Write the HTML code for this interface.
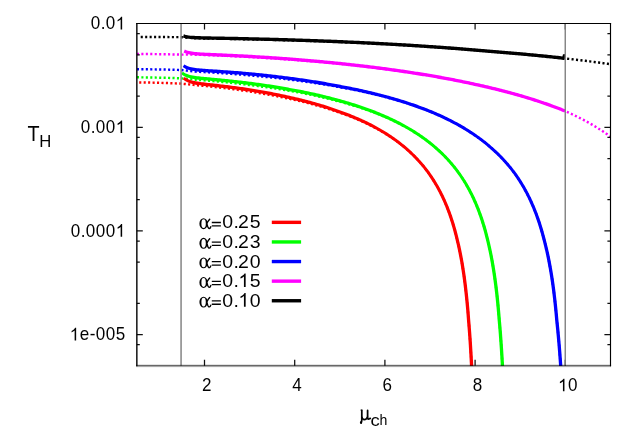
<!DOCTYPE html>
<html><head><meta charset="utf-8"><title>plot</title>
<style>
html,body{margin:0;padding:0;background:#fff;}
body{width:640px;height:448px;overflow:hidden;font-family:"Liberation Sans",sans-serif;}
svg{display:block;}
text{font-family:"Liberation Sans",sans-serif;fill:#000;}
text.sf{font-family:"Liberation Serif",serif;}
</style></head><body>
<svg width="640" height="448" viewBox="0 0 640 448">
<rect width="640" height="448" fill="#fff"/>
<defs><clipPath id="cp"><rect x="136" y="23" width="475" height="343"/></clipPath></defs>
<g clip-path="url(#cp)">
<path d="M139.20,82.42 L140.70,82.43 L142.20,82.46 L143.70,82.48 L145.20,82.50 L146.70,82.53 L148.20,82.55 L149.70,82.58 L151.20,82.61 L152.70,82.65 L154.20,82.68 L155.70,82.72 L157.20,82.76 L158.70,82.79 L160.20,82.84 L161.70,82.88 L163.19,82.93 L164.69,82.97 L166.19,83.02 L167.69,83.07 L169.19,83.13 L170.69,83.18 L172.19,83.24 L173.69,83.30 L175.19,83.36 L176.69,83.42 L178.18,83.49 L179.68,83.56 L181.18,83.64 L182.68,83.78 L184.18,83.93 L185.68,84.09 L187.17,84.24 L188.67,84.40 L190.17,84.56 L191.67,84.72 L193.16,84.88 L194.66,85.05 L196.16,85.21 L197.66,85.33 L199.15,85.44 L200.65,85.57 L202.15,85.70 L203.64,85.84 L205.14,85.99 L206.63,86.13 L208.13,86.28 L209.63,86.43 L211.12,86.58 L212.62,86.74 L214.11,86.90 L215.61,87.06 L217.10,87.22 L218.59,87.39 L220.09,87.56 L221.58,87.73 L223.08,87.91 L224.57,88.08 L226.06,88.27 L227.55,88.45 L229.05,88.64 L230.54,88.83 L232.03,89.02 L233.52,89.22 L235.01,89.42 L236.50,89.62 L237.99,89.82 L239.48,90.03 L240.97,90.24 L242.46,90.45 L243.95,90.67 L245.44,90.89 L246.93,91.11 L248.41,91.34 L249.90,91.56 L251.39,91.80 L252.87,92.03 L254.36,92.27 L255.84,92.51 L257.33,92.76 L258.81,93.01 L260.30,93.26 L261.78,93.50 L263.26,93.75 L264.74,94.00 L266.22,94.26 L267.70,94.51 L269.18,94.78 L270.66,95.04 L272.14,95.31 L273.62,95.59 L275.10,95.86 L276.57,96.15 L278.05,96.43 L279.52,96.72 L281.00,97.02 L282.47,97.32 L283.94,97.62 L285.41,97.93 L286.88,98.24 L288.35,98.56 L289.82,98.88 L291.29,99.19 L292.76,99.51 L294.22,99.83 L295.69,100.15 L297.15,100.48 L298.61,100.81 L300.07,101.15 L301.53,101.49 L302.99,101.84 L304.45,102.19 L305.91,102.55 L307.36,102.91 L308.82,103.28 L310.27,103.65 L311.72,104.03 L313.17,104.42 L314.62,104.81 L316.06,105.21 L317.51,105.61 L318.95,106.02 L320.39,106.43 L321.83,106.85 L323.27,107.28 L324.71,107.71 L326.14,108.15 L327.57,108.60 L329.00,109.05 L330.43,109.51 L331.86,109.98 L333.28,110.45 L334.70,110.93 L336.12,111.41 L337.54,111.90 L338.95,112.40 L340.37,112.90 L341.77,113.39 L343.18,113.88 L344.59,114.38 L345.99,114.89 L347.39,115.41 L348.78,115.93 L350.17,116.47 L351.56,117.01 L352.95,117.55 L354.33,118.11 L355.71,118.67 L357.09,119.25 L358.46,119.83 L359.83,120.42 L361.19,121.02 L362.55,121.62 L363.91,122.24 L365.26,122.86 L366.61,123.50 L367.95,124.14 L369.29,124.79 L370.63,125.45 L371.96,126.13 L373.28,126.81 L374.60,127.50 L375.92,128.20 L377.22,128.91 L378.53,129.63 L379.83,130.36 L381.12,131.10 L382.41,131.85 L383.69,132.61 L384.96,133.38 L386.23,134.16 L387.49,134.95 L388.74,135.75 L389.99,136.56 L391.23,137.39 L392.47,138.22 L393.69,139.07 L394.91,139.93 L396.12,140.79 L397.32,141.67 L398.52,142.56 L399.70,143.46 L400.88,144.37 L402.05,145.30 L403.21,146.23 L404.36,147.18 L405.50,148.14 L406.63,149.11 L407.76,150.09 L408.87,151.08 L409.97,152.08 L411.06,153.09 L412.15,154.12 L413.22,155.15 L414.28,156.20 L415.33,157.26 L416.37,158.33 L417.40,159.41 L418.42,160.50 L419.42,161.60 L420.42,162.72 L421.40,163.85 L422.37,164.99 L423.33,166.15 L424.28,167.31 L425.22,168.48 L426.14,169.67 L427.04,170.86 L427.93,172.06 L428.81,173.28 L429.68,174.50 L430.53,175.73 L431.37,176.97 L432.20,178.23 L433.01,179.49 L433.81,180.76 L434.60,182.04 L435.38,183.32 L436.14,184.61 L436.90,185.92 L437.64,187.22 L438.36,188.54 L439.08,189.86 L439.78,191.19 L440.47,192.53 L441.15,193.87 L441.82,195.22 L442.47,196.58 L443.11,197.94 L443.74,199.30 L444.36,200.68 L444.97,202.05 L445.56,203.44 L446.15,204.83 L446.72,206.22 L447.28,207.62 L447.83,209.02 L448.37,210.43 L448.90,211.84 L449.42,213.25 L449.93,214.67 L450.43,216.10 L450.92,217.53 L451.39,218.96 L451.86,220.39 L452.32,221.83 L452.77,223.27 L453.21,224.71 L453.64,226.16 L454.06,227.61 L454.47,229.06 L454.88,230.52 L455.27,231.97 L455.66,233.43 L456.03,234.90 L456.40,236.36 L456.77,237.83 L457.12,239.30 L457.47,240.77 L457.82,242.24 L458.17,243.71 L458.50,245.19 L458.83,246.67 L459.15,248.15 L459.47,249.63 L459.77,251.11 L460.08,252.60 L460.37,254.09 L460.66,255.58 L460.94,257.07 L461.22,258.56 L461.49,260.05 L461.75,261.54 L462.01,263.04 L462.26,264.53 L462.51,266.03 L462.75,267.52 L462.99,269.02 L463.22,270.52 L463.45,272.02 L463.67,273.52 L463.89,275.02 L464.10,276.52 L464.31,278.03 L464.51,279.53 L464.71,281.03 L464.91,282.54 L465.10,284.04 L465.28,285.54 L465.46,287.05 L465.64,288.56 L465.82,290.06 L465.99,291.57 L466.15,293.08 L466.32,294.58 L466.48,296.09 L466.63,297.60 L466.78,299.11 L466.93,300.62 L467.08,302.13 L467.22,303.64 L467.36,305.15 L467.50,306.66 L467.63,308.17 L467.76,309.68 L467.89,311.19 L468.02,312.70 L468.14,314.21 L468.26,315.73 L468.37,317.24 L468.49,318.75 L468.60,320.26 L468.73,321.78 L468.86,323.29 L468.98,324.80 L469.10,326.31 L469.22,327.83 L469.33,329.34 L469.45,330.85 L469.56,332.37 L469.67,333.88 L469.78,335.39 L469.88,336.91 L469.99,338.42 L470.09,339.94 L470.19,341.45 L470.29,342.96 L470.39,344.48 L470.48,345.99 L470.57,347.51 L470.67,349.02 L470.76,350.54 L470.85,352.05 L470.93,353.57 L471.02,355.08 L471.10,356.60 L471.18,358.11 L471.27,359.63 L471.35,361.14 L471.42,362.66 L471.50,364.17 L471.58,365.69 L471.64,367.20 L471.69,368.72 L471.75,370.23 L471.80,371.75 L471.85,373.26" fill="none" stroke="#ff0000" stroke-width="2.45" stroke-dasharray="2.1 2.35"/>
<path d="M136.90,77.32 L138.40,77.33 L139.90,77.35 L141.40,77.36 L142.90,77.38 L144.40,77.40 L145.90,77.42 L147.40,77.44 L148.90,77.46 L150.40,77.49 L151.90,77.51 L153.40,77.54 L154.90,77.57 L156.40,77.60 L157.90,77.63 L159.40,77.67 L160.90,77.70 L162.40,77.74 L163.90,77.77 L165.40,77.81 L166.89,77.86 L168.39,77.90 L169.89,77.94 L171.39,77.99 L172.89,78.04 L174.39,78.09 L175.89,78.14 L177.39,78.19 L178.89,78.25 L180.39,78.30 L181.89,78.40 L183.39,78.54 L184.88,78.67 L186.38,78.81 L187.88,78.94 L189.38,79.08 L190.88,79.22 L192.38,79.37 L193.87,79.51 L195.37,79.66 L196.87,79.77 L198.37,79.87 L199.87,79.96 L201.36,80.08 L202.86,80.19 L204.36,80.31 L205.86,80.43 L207.35,80.56 L208.85,80.68 L210.35,80.81 L211.84,80.94 L213.34,81.07 L214.84,81.20 L216.33,81.34 L217.83,81.48 L219.33,81.62 L220.82,81.76 L222.32,81.91 L223.81,82.06 L225.31,82.21 L226.80,82.36 L228.30,82.51 L229.79,82.67 L231.29,82.83 L232.78,82.99 L234.28,83.16 L235.77,83.33 L237.26,83.50 L238.76,83.67 L240.25,83.84 L241.74,84.02 L243.24,84.19 L244.73,84.37 L246.22,84.55 L247.71,84.74 L249.20,84.92 L250.70,85.11 L252.19,85.31 L253.68,85.50 L255.17,85.70 L256.66,85.90 L258.15,86.10 L259.64,86.31 L261.12,86.51 L262.61,86.71 L264.10,86.91 L265.59,87.11 L267.08,87.32 L268.56,87.53 L270.05,87.74 L271.54,87.96 L273.02,88.18 L274.51,88.40 L275.99,88.63 L277.48,88.85 L278.96,89.09 L280.44,89.32 L281.93,89.56 L283.41,89.81 L284.89,90.05 L286.37,90.30 L287.85,90.55 L289.33,90.81 L290.81,91.06 L292.29,91.31 L293.77,91.57 L295.25,91.82 L296.72,92.08 L298.20,92.35 L299.67,92.62 L301.15,92.89 L302.62,93.16 L304.10,93.44 L305.57,93.73 L307.04,94.01 L308.51,94.31 L309.98,94.60 L311.45,94.90 L312.92,95.21 L314.39,95.52 L315.85,95.83 L317.32,96.15 L318.78,96.47 L320.25,96.80 L321.71,97.13 L323.17,97.46 L324.63,97.80 L326.09,98.15 L327.55,98.50 L329.01,98.86 L330.46,99.22 L331.92,99.58 L333.37,99.95 L334.82,100.32 L336.27,100.70 L337.72,101.09 L339.17,101.48 L340.62,101.87 L342.06,102.25 L343.50,102.64 L344.95,103.04 L346.39,103.44 L347.83,103.85 L349.26,104.26 L350.70,104.68 L352.13,105.10 L353.56,105.53 L354.99,105.97 L356.42,106.41 L357.85,106.86 L359.27,107.32 L360.69,107.78 L362.11,108.25 L363.53,108.72 L364.94,109.20 L366.36,109.69 L367.77,110.18 L369.17,110.69 L370.58,111.19 L371.98,111.71 L373.38,112.23 L374.78,112.76 L376.17,113.30 L377.57,113.84 L378.95,114.40 L380.34,114.95 L381.72,115.52 L383.10,116.09 L384.48,116.67 L385.85,117.25 L387.22,117.85 L388.58,118.45 L389.95,119.06 L391.30,119.68 L392.66,120.31 L394.01,120.95 L395.35,121.59 L396.69,122.25 L398.03,122.91 L399.36,123.58 L400.69,124.26 L402.01,124.95 L403.33,125.65 L404.64,126.36 L405.95,127.08 L407.26,127.80 L408.55,128.54 L409.84,129.29 L411.13,130.04 L412.41,130.81 L413.69,131.59 L414.95,132.37 L416.21,133.17 L417.47,133.98 L418.72,134.79 L419.96,135.62 L421.20,136.47 L422.42,137.33 L423.64,138.20 L424.86,139.08 L426.06,139.97 L427.26,140.88 L428.45,141.79 L429.63,142.71 L430.81,143.65 L431.97,144.59 L433.13,145.55 L434.27,146.52 L435.41,147.50 L436.54,148.48 L437.66,149.48 L438.77,150.49 L439.87,151.51 L440.96,152.55 L442.05,153.59 L443.12,154.65 L444.18,155.71 L445.23,156.79 L446.27,157.88 L447.29,158.98 L448.31,160.08 L449.32,161.20 L450.31,162.33 L451.30,163.47 L452.27,164.62 L453.23,165.78 L454.18,166.94 L455.12,168.12 L456.05,169.31 L456.96,170.51 L457.85,171.71 L458.73,172.93 L459.60,174.15 L460.45,175.38 L461.29,176.63 L462.12,177.88 L462.94,179.13 L463.75,180.40 L464.54,181.68 L465.32,182.96 L466.09,184.25 L466.85,185.55 L467.59,186.85 L468.33,188.16 L469.05,189.48 L469.76,190.81 L470.45,192.14 L471.14,193.48 L471.81,194.83 L472.47,196.18 L473.12,197.54 L473.76,198.90 L474.38,200.27 L475.00,201.64 L475.60,203.02 L476.19,204.41 L476.77,205.80 L477.34,207.19 L477.90,208.59 L478.45,210.00 L478.98,211.41 L479.51,212.82 L480.03,214.24 L480.53,215.66 L481.03,217.09 L481.51,218.52 L481.99,219.95 L482.46,221.39 L482.91,222.83 L483.36,224.27 L483.80,225.72 L484.23,227.17 L484.65,228.62 L485.06,230.07 L485.46,231.53 L485.86,232.99 L486.24,234.45 L486.62,235.92 L486.99,237.38 L487.35,238.85 L487.71,240.32 L488.07,241.79 L488.42,243.27 L488.76,244.74 L489.10,246.22 L489.43,247.70 L489.76,249.18 L490.07,250.66 L490.38,252.15 L490.69,253.63 L490.99,255.12 L491.28,256.61 L491.56,258.10 L491.84,259.59 L492.11,261.08 L492.38,262.57 L492.64,264.06 L492.90,265.56 L493.15,267.05 L493.39,268.55 L493.63,270.05 L493.87,271.55 L494.10,273.04 L494.32,274.54 L494.54,276.04 L494.76,277.54 L494.97,279.05 L495.18,280.55 L495.38,282.05 L495.57,283.55 L495.77,285.06 L495.96,286.56 L496.14,288.07 L496.32,289.57 L496.50,291.08 L496.67,292.59 L496.84,294.09 L497.01,295.60 L497.17,297.11 L497.33,298.62 L497.48,300.12 L497.64,301.63 L497.78,303.14 L497.93,304.65 L498.07,306.16 L498.21,307.67 L498.35,309.18 L498.48,310.69 L498.61,312.20 L498.74,313.71 L498.86,315.22 L498.99,316.73 L499.11,318.25 L499.22,319.76 L499.36,321.27 L499.49,322.78 L499.62,324.29 L499.75,325.81 L499.88,327.32 L500.00,328.83 L500.12,330.34 L500.24,331.86 L500.36,333.37 L500.47,334.88 L500.59,336.40 L500.70,337.91 L500.81,339.43 L500.92,340.94 L501.02,342.45 L501.13,343.97 L501.23,345.48 L501.33,346.99 L501.43,348.51 L501.52,350.02 L501.62,351.54 L501.71,353.05 L501.81,354.57 L501.90,356.08 L501.99,357.60 L502.07,359.11 L502.16,360.63 L502.25,362.14 L502.33,363.65 L502.41,365.17 L502.48,366.68 L502.54,368.20 L502.60,369.71 L502.65,371.23 L502.71,372.74" fill="none" stroke="#00ff00" stroke-width="2.45" stroke-dasharray="2.1 2.35"/>
<path d="M136.90,69.20 L138.40,69.21 L139.90,69.22 L141.40,69.23 L142.90,69.25 L144.40,69.26 L145.90,69.28 L147.40,69.30 L148.90,69.31 L150.40,69.33 L151.90,69.35 L153.40,69.37 L154.90,69.39 L156.40,69.42 L157.90,69.44 L159.40,69.47 L160.90,69.49 L162.40,69.52 L163.90,69.55 L165.40,69.58 L166.90,69.61 L168.40,69.65 L169.90,69.68 L171.40,69.71 L172.90,69.75 L174.40,69.79 L175.89,69.83 L177.39,69.87 L178.89,69.91 L180.39,69.95 L181.89,70.07 L183.39,70.24 L184.89,70.40 L186.39,70.57 L187.89,70.75 L189.39,70.92 L190.89,71.09 L192.39,71.27 L193.89,71.44 L195.38,71.62 L196.88,71.74 L198.38,71.81 L199.88,71.89 L201.38,71.96 L202.88,72.04 L204.38,72.12 L205.88,72.21 L207.37,72.29 L208.87,72.37 L210.37,72.46 L211.87,72.55 L213.37,72.64 L214.86,72.73 L216.36,72.82 L217.86,72.92 L219.36,73.01 L220.86,73.11 L222.35,73.21 L223.85,73.31 L225.35,73.42 L226.85,73.52 L228.34,73.63 L229.84,73.74 L231.34,73.85 L232.83,73.96 L234.33,74.07 L235.83,74.19 L237.32,74.30 L238.82,74.42 L240.32,74.55 L241.81,74.67 L243.31,74.81 L244.80,74.94 L246.30,75.07 L247.80,75.21 L249.29,75.35 L250.79,75.49 L252.28,75.63 L253.78,75.77 L255.27,75.92 L256.77,76.07 L258.26,76.22 L259.75,76.37 L261.25,76.51 L262.74,76.65 L264.24,76.80 L265.73,76.95 L267.22,77.09 L268.72,77.24 L270.21,77.40 L271.70,77.55 L273.19,77.71 L274.69,77.87 L276.18,78.03 L277.67,78.20 L279.16,78.36 L280.65,78.53 L282.14,78.70 L283.64,78.87 L285.13,79.05 L286.62,79.23 L288.11,79.41 L289.60,79.59 L291.09,79.77 L292.57,79.95 L294.06,80.14 L295.55,80.33 L297.04,80.52 L298.53,80.71 L300.02,80.90 L301.50,81.10 L302.99,81.30 L304.48,81.51 L305.96,81.71 L307.45,81.92 L308.93,82.13 L310.42,82.34 L311.90,82.56 L313.39,82.78 L314.87,83.00 L316.35,83.23 L317.84,83.45 L319.32,83.68 L320.80,83.92 L322.28,84.15 L323.76,84.39 L325.25,84.64 L326.73,84.88 L328.21,85.13 L329.68,85.38 L331.16,85.64 L332.64,85.89 L334.12,86.15 L335.60,86.42 L337.07,86.69 L338.55,86.96 L340.02,87.23 L341.50,87.49 L342.97,87.75 L344.45,88.01 L345.92,88.28 L347.39,88.55 L348.86,88.83 L350.33,89.11 L351.80,89.39 L353.27,89.67 L354.74,89.96 L356.21,90.26 L357.67,90.55 L359.14,90.85 L360.61,91.16 L362.07,91.47 L363.53,91.78 L365.00,92.10 L366.46,92.42 L367.92,92.74 L369.38,93.07 L370.84,93.40 L372.30,93.74 L373.75,94.08 L375.21,94.42 L376.66,94.77 L378.12,95.13 L379.57,95.49 L381.02,95.84 L382.47,96.21 L383.92,96.57 L385.37,96.94 L386.81,97.32 L388.26,97.70 L389.70,98.08 L391.15,98.47 L392.59,98.86 L394.03,99.26 L395.46,99.67 L396.90,100.08 L398.34,100.49 L399.77,100.91 L401.20,101.33 L402.63,101.76 L404.06,102.20 L405.49,102.64 L406.91,103.09 L408.34,103.54 L409.76,104.00 L411.18,104.46 L412.59,104.93 L414.01,105.41 L415.42,105.89 L416.83,106.38 L418.24,106.87 L419.65,107.37 L421.05,107.89 L422.46,108.41 L423.86,108.95 L425.25,109.48 L426.65,110.03 L428.04,110.58 L429.43,111.14 L430.81,111.71 L432.20,112.28 L433.58,112.86 L434.96,113.44 L436.33,114.04 L437.70,114.64 L439.07,115.25 L440.44,115.86 L441.80,116.49 L443.16,117.13 L444.51,117.77 L445.86,118.42 L447.21,119.07 L448.55,119.74 L449.89,120.41 L451.23,121.10 L452.56,121.79 L453.89,122.48 L455.21,123.19 L456.53,123.91 L457.84,124.63 L459.15,125.36 L460.45,126.10 L461.75,126.85 L463.04,127.61 L464.33,128.38 L465.62,129.15 L466.89,129.94 L468.17,130.73 L469.43,131.54 L470.69,132.35 L471.95,133.17 L473.20,134.01 L474.44,134.85 L475.67,135.70 L476.90,136.56 L478.12,137.43 L479.34,138.31 L480.55,139.21 L481.75,140.11 L482.94,141.03 L484.13,141.95 L485.31,142.89 L486.48,143.84 L487.64,144.79 L488.80,145.76 L489.94,146.73 L491.08,147.72 L492.21,148.72 L493.33,149.72 L494.44,150.74 L495.54,151.77 L496.64,152.80 L497.72,153.85 L498.79,154.91 L499.86,155.97 L500.91,157.05 L501.96,158.14 L502.99,159.23 L504.02,160.34 L505.03,161.45 L506.03,162.58 L507.03,163.71 L508.01,164.86 L508.98,166.01 L509.94,167.18 L510.89,168.35 L511.83,169.53 L512.74,170.72 L513.64,171.92 L514.53,173.13 L515.40,174.35 L516.26,175.57 L517.11,176.81 L517.95,178.05 L518.78,179.30 L519.60,180.56 L520.40,181.82 L521.19,183.10 L521.97,184.38 L522.74,185.67 L523.50,186.97 L524.24,188.27 L524.98,189.58 L525.70,190.90 L526.41,192.22 L527.10,193.55 L527.79,194.89 L528.47,196.23 L529.13,197.58 L529.78,198.93 L530.42,200.29 L531.05,201.66 L531.67,203.03 L532.28,204.40 L532.88,205.79 L533.46,207.17 L534.04,208.56 L534.60,209.96 L535.15,211.36 L535.70,212.76 L536.23,214.17 L536.75,215.58 L537.27,217.00 L537.77,218.42 L538.26,219.84 L538.74,221.27 L539.22,222.70 L539.68,224.14 L540.14,225.57 L540.58,227.01 L541.02,228.46 L541.45,229.90 L541.87,231.35 L542.28,232.80 L542.68,234.26 L543.07,235.71 L543.46,237.17 L543.83,238.63 L544.20,240.10 L544.59,241.56 L544.97,243.03 L545.33,244.50 L545.70,245.97 L546.05,247.44 L546.40,248.92 L546.74,250.40 L547.07,251.87 L547.40,253.35 L547.72,254.84 L548.03,256.32 L548.34,257.80 L548.64,259.29 L548.93,260.77 L549.22,262.26 L549.51,263.75 L549.78,265.24 L550.05,266.73 L550.32,268.22 L550.58,269.72 L550.83,271.21 L551.08,272.71 L551.33,274.20 L551.57,275.70 L551.80,277.20 L552.03,278.70 L552.25,280.19 L552.47,281.69 L552.69,283.19 L552.90,284.70 L553.11,286.20 L553.31,287.70 L553.51,289.20 L553.70,290.71 L553.89,292.21 L554.08,293.71 L554.26,295.22 L554.44,296.72 L554.61,298.23 L554.78,299.74 L554.95,301.24 L555.11,302.75 L555.27,304.26 L555.43,305.76 L555.58,307.27 L555.73,308.78 L555.88,310.29 L556.03,311.80 L556.17,313.31 L556.31,314.82 L556.44,316.33 L556.57,317.84 L556.70,319.35 L556.85,320.86 L557.01,322.37 L557.17,323.88 L557.32,325.39 L557.48,326.90 L557.63,328.41 L557.77,329.92 L557.92,331.44 L558.06,332.95 L558.20,334.46 L558.34,335.97 L558.48,337.49 L558.61,339.00 L558.75,340.51 L558.88,342.02 L559.01,343.54 L559.13,345.05 L559.26,346.56 L559.38,348.08 L559.50,349.59 L559.62,351.10 L559.74,352.62 L559.85,354.13 L559.97,355.64 L560.08,357.16 L560.19,358.67 L560.30,360.19 L560.41,361.70 L560.52,363.21 L560.62,364.73 L560.72,366.24 L560.78,367.76 L560.85,369.27 L560.91,370.78 L560.97,372.30" fill="none" stroke="#0000ff" stroke-width="2.45" stroke-dasharray="2.1 2.35"/>
<path d="M136.90,53.90 L138.40,53.91 L139.90,53.93 L141.40,53.94 L142.90,53.96 L144.40,53.97 L145.90,53.99 L147.40,54.00 L148.90,54.02 L150.40,54.04 L151.90,54.06 L153.40,54.08 L154.90,54.10 L156.40,54.13 L157.90,54.15 L159.40,54.17 L160.90,54.20 L162.40,54.22 L163.90,54.25 L165.40,54.28 L166.90,54.31 L168.40,54.34 L169.90,54.37 L171.40,54.40 L172.90,54.43 L174.40,54.46 L175.90,54.50 L177.39,54.53 L178.89,54.57 L180.39,54.60 L181.89,54.62 L183.39,54.62 L184.89,54.62 L186.39,54.62 L187.89,54.63 L189.39,54.63 L190.89,54.64 L192.39,54.65 L193.89,54.65 L195.39,54.66 L196.89,54.70 L198.39,54.75 L199.89,54.80 L201.39,54.85 L202.88,54.90 L204.38,54.96 L205.88,55.01 L207.38,55.07 L208.88,55.13 L210.38,55.19 L211.88,55.25 L213.38,55.31 L214.88,55.37 L216.38,55.43 L217.87,55.49 L219.37,55.55 L220.87,55.62 L222.37,55.69 L223.87,55.75 L225.37,55.82 L226.87,55.89 L228.37,55.96 L229.86,56.03 L231.36,56.10 L232.86,56.17 L234.36,56.24 L235.86,56.32 L237.36,56.39 L238.85,56.47 L240.35,56.55 L241.85,56.63 L243.35,56.71 L244.85,56.79 L246.35,56.87 L247.84,56.95 L249.34,57.03 L250.84,57.12 L252.34,57.20 L253.83,57.29 L255.33,57.38 L256.83,57.46 L258.33,57.55 L259.83,57.64 L261.32,57.73 L262.82,57.82 L264.32,57.91 L265.81,57.99 L267.31,58.08 L268.81,58.18 L270.31,58.27 L271.80,58.36 L273.30,58.46 L274.80,58.55 L276.29,58.65 L277.79,58.75 L279.29,58.85 L280.78,58.95 L282.28,59.05 L283.78,59.15 L285.27,59.25 L286.77,59.36 L288.27,59.46 L289.76,59.57 L291.26,59.68 L292.75,59.79 L294.25,59.90 L295.75,60.01 L297.24,60.12 L298.74,60.23 L300.23,60.35 L301.73,60.46 L303.22,60.58 L304.72,60.70 L306.21,60.82 L307.71,60.94 L309.20,61.06 L310.70,61.18 L312.19,61.31 L313.69,61.43 L315.18,61.56 L316.68,61.69 L318.17,61.82 L319.67,61.95 L321.16,62.08 L322.65,62.21 L324.15,62.34 L325.64,62.48 L327.14,62.62 L328.63,62.75 L330.12,62.89 L331.62,63.03 L333.11,63.17 L334.60,63.32 L336.10,63.46 L337.59,63.61 L339.08,63.75 L340.57,63.90 L342.07,64.05 L343.56,64.20 L345.05,64.36 L346.54,64.51 L348.03,64.66 L349.53,64.82 L351.02,64.98 L352.51,65.14 L354.00,65.30 L355.49,65.46 L356.98,65.62 L358.47,65.79 L359.96,65.96 L361.46,66.12 L362.95,66.29 L364.44,66.46 L365.93,66.64 L367.42,66.81 L368.91,66.99 L370.39,67.16 L371.88,67.34 L373.37,67.52 L374.86,67.70 L376.35,67.89 L377.84,68.07 L379.33,68.26 L380.82,68.44 L382.30,68.63 L383.79,68.82 L385.28,69.02 L386.77,69.21 L388.25,69.41 L389.74,69.60 L391.23,69.80 L392.71,70.00 L394.20,70.21 L395.69,70.41 L397.17,70.62 L398.66,70.83 L400.14,71.03 L401.63,71.24 L403.11,71.45 L404.60,71.66 L406.08,71.87 L407.56,72.09 L409.05,72.30 L410.53,72.52 L412.01,72.74 L413.50,72.96 L414.98,73.19 L416.46,73.41 L417.94,73.64 L419.43,73.87 L420.91,74.10 L422.39,74.34 L423.87,74.58 L425.35,74.83 L426.83,75.07 L428.31,75.32 L429.79,75.57 L431.27,75.82 L432.75,76.07 L434.22,76.33 L435.70,76.58 L437.18,76.84 L438.66,77.10 L440.13,77.37 L441.61,77.63 L443.09,77.90 L444.56,78.17 L446.04,78.45 L447.51,78.72 L448.99,79.00 L450.46,79.28 L451.93,79.56 L453.41,79.85 L454.88,80.13 L456.35,80.42 L457.82,80.71 L459.29,81.01 L460.76,81.30 L462.23,81.60 L463.70,81.90 L465.17,82.21 L466.64,82.52 L468.11,82.83 L469.58,83.14 L471.04,83.45 L472.51,83.77 L473.98,84.09 L475.44,84.41 L476.91,84.74 L478.37,85.07 L479.83,85.40 L481.30,85.72 L482.76,86.05 L484.22,86.38 L485.68,86.72 L487.14,87.06 L488.60,87.40 L490.06,87.74 L491.52,88.09 L492.97,88.44 L494.43,88.79 L495.88,89.14 L497.34,89.50 L498.79,89.87 L500.25,90.23 L501.70,90.60 L503.15,90.97 L504.60,91.35 L506.05,91.73 L507.50,92.11 L508.94,92.50 L510.39,92.89 L511.84,93.28 L513.28,93.68 L514.73,94.08 L516.17,94.48 L517.61,94.89 L519.05,95.30 L520.49,95.72 L521.93,96.14 L523.36,96.56 L524.80,96.99 L526.23,97.42 L527.67,97.86 L529.10,98.30 L530.53,98.74 L531.96,99.18 L533.39,99.63 L534.81,100.09 L536.24,100.54 L537.66,101.01 L539.09,101.47 L540.51,101.94 L541.93,102.42 L543.34,102.90 L544.76,103.39 L546.17,103.88 L547.59,104.37 L549.00,104.87 L550.41,105.38 L551.81,105.89 L553.22,106.40 L554.62,106.92 L556.02,107.45 L557.42,107.98 L558.82,108.52 L560.22,109.06 L561.61,109.61 L563.00,110.16 L564.39,110.72 L565.78,111.31 L567.16,111.94 L568.54,112.57 L569.92,113.21 L571.30,113.85 L572.67,114.50 L574.04,115.16 L575.41,115.82 L576.78,116.49 L578.14,117.16 L579.50,117.84 L580.85,118.53 L582.21,119.22 L583.56,119.92 L584.91,120.63 L586.25,121.35 L587.59,122.07 L588.93,122.79 L590.26,123.54 L591.59,124.32 L592.91,125.11 L594.24,125.91 L595.55,126.71 L596.87,127.53 L598.18,128.35 L599.48,129.17 L600.78,130.01 L602.08,130.85 L603.37,131.70 L604.66,132.56 L605.94,133.42 L607.22,134.30 L608.49,135.18 L609.76,136.07 L611.02,136.97 L612.00,137.67" fill="none" stroke="#ff00ff" stroke-width="2.45" stroke-dasharray="2.1 2.35"/>
<path d="M140.70,36.99 L142.20,36.99 L143.70,36.99 L145.20,37.00 L146.70,37.00 L148.20,37.01 L149.70,37.01 L151.20,37.02 L152.70,37.02 L154.20,37.03 L155.70,37.03 L157.20,37.04 L158.70,37.05 L160.20,37.05 L161.70,37.06 L163.20,37.07 L164.70,37.07 L166.20,37.08 L167.70,37.09 L169.20,37.10 L170.70,37.11 L172.20,37.12 L173.70,37.12 L175.20,37.13 L176.70,37.14 L178.20,37.15 L179.70,37.17 L181.20,37.19 L182.70,37.31 L184.20,37.42 L185.70,37.54 L187.20,37.66 L188.70,37.78 L190.20,37.89 L191.70,38.01 L193.20,38.13 L194.70,38.25 L196.20,38.36 L197.70,38.38 L199.20,38.40 L200.70,38.42 L202.20,38.44 L203.70,38.46 L205.20,38.49 L206.70,38.51 L208.20,38.53 L209.70,38.56 L211.20,38.58 L212.70,38.60 L214.20,38.63 L215.70,38.65 L217.20,38.68 L218.70,38.71 L220.20,38.73 L221.70,38.76 L223.20,38.79 L224.70,38.81 L226.20,38.84 L227.70,38.87 L229.20,38.90 L230.70,38.93 L232.20,38.96 L233.70,38.99 L235.20,39.02 L236.70,39.05 L238.20,39.08 L239.70,39.11 L241.19,39.14 L242.69,39.18 L244.19,39.21 L245.69,39.24 L247.19,39.28 L248.69,39.31 L250.19,39.35 L251.69,39.38 L253.19,39.42 L254.69,39.45 L256.19,39.49 L257.69,39.53 L259.19,39.56 L260.69,39.60 L262.19,39.63 L263.69,39.66 L265.19,39.70 L266.69,39.73 L268.19,39.76 L269.69,39.80 L271.19,39.83 L272.69,39.87 L274.19,39.90 L275.69,39.94 L277.19,39.98 L278.69,40.01 L280.19,40.05 L281.69,40.09 L283.18,40.13 L284.68,40.17 L286.18,40.21 L287.68,40.25 L289.18,40.29 L290.68,40.33 L292.18,40.37 L293.68,40.41 L295.18,40.45 L296.68,40.50 L298.18,40.54 L299.68,40.59 L301.18,40.63 L302.68,40.67 L304.18,40.72 L305.68,40.77 L307.17,40.81 L308.67,40.86 L310.17,40.91 L311.67,40.96 L313.17,41.00 L314.67,41.05 L316.17,41.10 L317.67,41.15 L319.17,41.20 L320.67,41.26 L322.17,41.31 L323.67,41.36 L325.16,41.41 L326.66,41.47 L328.16,41.52 L329.66,41.57 L331.16,41.63 L332.66,41.69 L334.16,41.74 L335.66,41.80 L337.16,41.86 L338.66,41.91 L340.15,41.97 L341.65,42.03 L343.15,42.09 L344.65,42.15 L346.15,42.21 L347.65,42.27 L349.15,42.33 L350.65,42.40 L352.14,42.46 L353.64,42.52 L355.14,42.59 L356.64,42.65 L358.14,42.72 L359.64,42.78 L361.14,42.85 L362.63,42.92 L364.13,42.98 L365.63,43.05 L367.13,43.12 L368.63,43.19 L370.13,43.26 L371.62,43.33 L373.12,43.40 L374.62,43.47 L376.12,43.55 L377.62,43.62 L379.12,43.69 L380.61,43.77 L382.11,43.84 L383.61,43.92 L385.11,43.99 L386.61,44.07 L388.10,44.15 L389.60,44.23 L391.10,44.30 L392.60,44.38 L394.10,44.46 L395.59,44.55 L397.09,44.63 L398.59,44.71 L400.09,44.79 L401.58,44.87 L403.08,44.96 L404.58,45.04 L406.08,45.13 L407.58,45.22 L409.07,45.30 L410.57,45.39 L412.07,45.48 L413.57,45.57 L415.06,45.66 L416.56,45.75 L418.06,45.84 L419.55,45.93 L421.05,46.03 L422.55,46.13 L424.05,46.23 L425.54,46.33 L427.04,46.43 L428.54,46.53 L430.03,46.63 L431.53,46.73 L433.03,46.84 L434.52,46.94 L436.02,47.04 L437.52,47.15 L439.01,47.25 L440.51,47.36 L442.01,47.47 L443.50,47.58 L445.00,47.69 L446.50,47.80 L447.99,47.91 L449.49,48.02 L450.99,48.13 L452.48,48.24 L453.98,48.35 L455.47,48.47 L456.97,48.58 L458.47,48.70 L459.96,48.82 L461.46,48.93 L462.95,49.05 L464.45,49.17 L465.94,49.29 L467.44,49.41 L468.94,49.53 L470.43,49.65 L471.93,49.78 L473.42,49.90 L474.92,50.02 L476.41,50.15 L477.91,50.27 L479.40,50.40 L480.90,50.53 L482.39,50.66 L483.89,50.79 L485.38,50.92 L486.88,51.05 L488.37,51.18 L489.87,51.31 L491.36,51.43 L492.85,51.55 L494.35,51.67 L495.84,51.79 L497.34,51.91 L498.83,52.03 L500.33,52.15 L501.82,52.27 L503.31,52.40 L504.81,52.52 L506.30,52.65 L507.80,52.77 L509.29,52.90 L510.78,53.03 L512.28,53.16 L513.77,53.29 L515.26,53.42 L516.76,53.55 L518.25,53.68 L519.74,53.82 L521.23,53.95 L522.73,54.09 L524.22,54.22 L525.71,54.36 L527.21,54.50 L528.70,54.64 L530.19,54.78 L531.68,54.92 L533.17,55.06 L534.67,55.21 L536.16,55.35 L537.65,55.50 L539.14,55.64 L540.63,55.79 L542.13,55.94 L543.62,56.09 L545.11,56.24 L546.60,56.39 L548.09,56.54 L549.58,56.70 L551.07,56.85 L552.56,57.01 L554.05,57.16 L555.54,57.32 L557.03,57.49 L558.52,57.65 L560.01,57.82 L561.50,57.99 L562.99,58.16 L564.48,58.33 L565.97,58.50 L567.46,58.68 L568.95,58.85 L570.44,59.02 L571.93,59.20 L573.42,59.38 L574.91,59.56 L576.40,59.74 L577.89,59.92 L579.37,60.10 L580.86,60.28 L582.35,60.47 L583.84,60.65 L585.33,60.84 L586.81,61.03 L588.30,61.21 L589.79,61.40 L591.28,61.60 L592.76,61.79 L594.25,61.98 L595.74,62.18 L597.22,62.37 L598.71,62.57 L600.20,62.77 L601.68,62.97 L603.17,63.17 L604.65,63.37 L606.14,63.58 L607.63,63.78 L609.11,63.99 L610.60,64.19 L612.00,64.39" fill="none" stroke="#000000" stroke-width="2.45" stroke-dasharray="2.1 2.35"/>
<path d="M182.78,79.24 L184.33,80.46 L185.95,81.50 L187.55,82.33 L189.15,83.00 L190.73,83.53 L192.29,83.97 L193.85,84.33 L195.39,84.63 L196.92,84.89 L198.44,85.12 L199.95,85.32 L201.45,85.52 L202.96,85.71 L204.46,85.89 L205.97,86.07 L207.46,86.24 L208.96,86.40 L210.46,86.57 L211.95,86.73 L213.45,86.90 L214.94,87.06 L216.43,87.23 L217.93,87.40 L219.42,87.57 L220.91,87.75 L222.40,87.92 L223.89,88.10 L225.38,88.28 L226.87,88.46 L228.36,88.65 L229.85,88.84 L231.34,89.03 L232.82,89.22 L234.31,89.42 L235.80,89.62 L237.29,89.83 L238.77,90.03 L240.26,90.24 L241.75,90.45 L243.23,90.67 L244.72,90.88 L246.20,91.10 L247.69,91.33 L249.17,91.55 L250.65,91.78 L252.14,92.02 L253.62,92.25 L255.10,92.49 L256.58,92.74 L258.06,92.98 L259.54,93.24 L261.02,93.49 L262.50,93.75 L263.97,94.01 L265.45,94.28 L266.93,94.55 L268.40,94.82 L269.88,95.10 L271.35,95.38 L272.83,95.67 L274.30,95.96 L275.77,96.25 L277.24,96.55 L278.71,96.85 L280.18,97.16 L281.65,97.47 L283.12,97.79 L284.59,98.11 L286.05,98.43 L287.52,98.76 L288.99,99.09 L290.46,99.43 L291.93,99.75 L293.39,100.08 L294.85,100.41 L296.31,100.75 L297.76,101.09 L299.22,101.44 L300.68,101.80 L302.13,102.15 L303.58,102.52 L305.03,102.89 L306.48,103.26 L307.93,103.64 L309.38,104.02 L310.82,104.41 L312.27,104.81 L313.71,105.21 L315.15,105.62 L316.59,106.03 L318.03,106.45 L319.46,106.87 L320.90,107.30 L322.33,107.73 L323.76,108.18 L325.19,108.62 L326.62,109.08 L328.04,109.54 L329.46,110.00 L330.88,110.48 L332.30,110.96 L333.72,111.44 L335.13,111.94 L336.54,112.44 L337.95,112.94 L339.37,113.46 L340.78,113.97 L342.18,114.47 L343.58,114.98 L344.98,115.49 L346.37,116.02 L347.76,116.55 L349.14,117.08 L350.53,117.63 L351.91,118.18 L353.28,118.74 L354.65,119.31 L356.02,119.89 L357.39,120.48 L358.75,121.07 L360.11,121.67 L361.46,122.29 L362.81,122.91 L364.16,123.53 L365.50,124.17 L366.84,124.82 L368.17,125.47 L369.50,126.14 L370.82,126.81 L372.14,127.49 L373.45,128.19 L374.76,128.89 L376.06,129.60 L377.36,130.32 L378.65,131.05 L379.93,131.79 L381.21,132.54 L382.49,133.31 L383.75,134.08 L385.01,134.86 L386.27,135.65 L387.51,136.45 L388.75,137.26 L389.99,138.09 L391.21,138.92 L392.43,139.77 L393.64,140.62 L394.85,141.49 L396.04,142.37 L397.23,143.25 L398.41,144.15 L399.58,145.06 L400.74,145.98 L401.89,146.92 L403.04,147.86 L404.17,148.81 L405.30,149.78 L406.41,150.76 L407.52,151.75 L408.62,152.74 L409.70,153.75 L410.78,154.78 L411.84,155.81 L412.90,156.85 L413.94,157.91 L414.97,158.97 L415.99,160.05 L417.01,161.13 L418.00,162.23 L418.99,163.34 L419.97,164.46 L420.93,165.59 L421.89,166.73 L422.83,167.87 L423.76,169.03 L424.67,170.20 L425.57,171.38 L426.45,172.56 L427.32,173.76 L428.18,174.97 L429.02,176.19 L429.86,177.41 L430.68,178.65 L431.49,179.90 L432.28,181.16 L433.07,182.42 L433.84,183.69 L434.59,184.97 L435.34,186.26 L436.07,187.55 L436.80,188.86 L437.51,190.16 L438.20,191.48 L438.89,192.80 L439.56,194.13 L440.22,195.47 L440.87,196.81 L441.51,198.16 L442.13,199.51 L442.75,200.87 L443.35,202.24 L443.94,203.61 L444.52,204.99 L445.09,206.37 L445.65,207.76 L446.19,209.15 L446.73,210.54 L447.26,211.94 L447.77,213.35 L448.28,214.75 L448.77,216.17 L449.26,217.58 L449.73,219.00 L450.20,220.43 L450.65,221.85 L451.10,223.28 L451.54,224.72 L451.96,226.15 L452.38,227.59 L452.79,229.04 L453.20,230.48 L453.59,231.93 L453.97,233.38 L454.35,234.83 L454.72,236.29 L455.08,237.75 L455.43,239.21 L455.78,240.68 L456.13,242.14 L456.48,243.61 L456.81,245.08 L457.14,246.55 L457.46,248.02 L457.77,249.49 L458.08,250.97 L458.38,252.45 L458.68,253.93 L458.96,255.41 L459.25,256.89 L459.52,258.38 L459.79,259.86 L460.06,261.35 L460.31,262.84 L460.57,264.33 L460.81,265.82 L461.06,267.31 L461.29,268.80 L461.53,270.29 L461.75,271.79 L461.97,273.28 L462.19,274.78 L462.40,276.27 L462.61,277.77 L462.82,279.27 L463.01,280.77 L463.21,282.27 L463.40,283.77 L463.59,285.27 L463.77,286.77 L463.95,288.27 L464.12,289.77 L464.29,291.27 L464.46,292.78 L464.62,294.28 L464.78,295.79 L464.94,297.29 L465.09,298.79 L465.24,300.30 L465.39,301.81 L465.53,303.31 L465.67,304.82 L465.81,306.33 L465.94,307.83 L466.07,309.34 L466.20,310.85 L466.33,312.36 L466.45,313.87 L466.57,315.37 L466.69,316.88 L466.80,318.39 L466.92,319.91 L467.04,321.43 L467.17,322.94 L467.29,324.45 L467.41,325.96 L467.53,327.47 L467.65,328.98 L467.76,330.49 L467.87,332.01 L467.98,333.52 L468.09,335.03 L468.20,336.54 L468.30,338.05 L468.41,339.56 L468.51,341.08 L468.61,342.59 L468.70,344.10 L468.80,345.61 L468.89,347.13 L468.98,348.64 L469.07,350.15 L469.16,351.67 L469.25,353.18 L469.34,354.69 L469.42,356.21 L469.50,357.72 L469.58,359.23 L469.66,360.75 L469.74,362.26 L469.82,363.77 L469.90,365.28 L469.96,366.79 L470.02,368.29 L470.07,369.81 L470.13,371.32 L470.18,372.84 L473.49,372.72 L473.44,371.21 L473.39,369.69 L473.33,368.17 L473.28,366.65 L473.21,365.13 L473.13,363.60 L473.06,362.09 L472.98,360.57 L472.90,359.05 L472.81,357.54 L472.73,356.02 L472.65,354.51 L472.56,352.99 L472.47,351.47 L472.38,349.96 L472.29,348.44 L472.20,346.92 L472.11,345.41 L472.01,343.89 L471.91,342.37 L471.81,340.86 L471.71,339.34 L471.61,337.83 L471.50,336.31 L471.40,334.79 L471.29,333.28 L471.18,331.76 L471.06,330.25 L470.95,328.73 L470.83,327.22 L470.71,325.70 L470.59,324.18 L470.47,322.67 L470.34,321.16 L470.22,319.65 L470.10,318.14 L469.99,316.63 L469.87,315.11 L469.75,313.60 L469.62,312.09 L469.50,310.57 L469.37,309.06 L469.24,307.54 L469.10,306.03 L468.96,304.52 L468.82,303.00 L468.68,301.49 L468.53,299.98 L468.38,298.46 L468.23,296.95 L468.07,295.44 L467.91,293.93 L467.74,292.42 L467.57,290.90 L467.40,289.39 L467.22,287.88 L467.04,286.37 L466.86,284.86 L466.67,283.35 L466.48,281.85 L466.28,280.34 L466.08,278.83 L465.87,277.32 L465.66,275.81 L465.45,274.31 L465.23,272.80 L465.00,271.30 L464.77,269.79 L464.54,268.29 L464.30,266.79 L464.05,265.28 L463.80,263.78 L463.54,262.28 L463.28,260.78 L463.01,259.28 L462.74,257.78 L462.46,256.29 L462.17,254.79 L461.88,253.30 L461.58,251.80 L461.27,250.31 L460.96,248.82 L460.64,247.33 L460.31,245.85 L459.98,244.36 L459.64,242.88 L459.29,241.40 L458.94,239.92 L458.58,238.45 L458.22,236.97 L457.86,235.50 L457.48,234.03 L457.09,232.56 L456.70,231.09 L456.30,229.62 L455.89,228.16 L455.47,226.70 L455.04,225.24 L454.60,223.79 L454.15,222.34 L453.70,220.89 L453.23,219.44 L452.75,218.00 L452.27,216.56 L451.77,215.12 L451.26,213.69 L450.74,212.26 L450.21,210.84 L449.67,209.42 L449.12,208.00 L448.56,206.59 L447.99,205.18 L447.41,203.78 L446.81,202.38 L446.20,200.99 L445.58,199.60 L444.95,198.22 L444.31,196.84 L443.66,195.47 L442.99,194.11 L442.31,192.75 L441.62,191.40 L440.92,190.05 L440.20,188.71 L439.47,187.38 L438.73,186.06 L437.98,184.74 L437.21,183.43 L436.43,182.13 L435.64,180.83 L434.84,179.55 L434.02,178.27 L433.19,177.00 L432.35,175.74 L431.49,174.49 L430.62,173.25 L429.74,172.02 L428.85,170.79 L427.95,169.58 L427.02,168.38 L426.08,167.19 L425.13,166.00 L424.17,164.83 L423.20,163.67 L422.21,162.52 L421.21,161.38 L420.20,160.25 L419.18,159.13 L418.15,158.02 L417.11,156.92 L416.05,155.84 L414.99,154.76 L413.91,153.69 L412.83,152.64 L411.73,151.60 L410.63,150.56 L409.51,149.54 L408.38,148.53 L407.25,147.54 L406.10,146.55 L404.95,145.57 L403.78,144.61 L402.61,143.65 L401.43,142.71 L400.24,141.78 L399.04,140.86 L397.84,139.95 L396.62,139.06 L395.40,138.17 L394.17,137.30 L392.93,136.43 L391.69,135.58 L390.43,134.74 L389.18,133.90 L387.91,133.08 L386.64,132.27 L385.36,131.47 L384.07,130.68 L382.78,129.91 L381.48,129.14 L380.18,128.38 L378.87,127.63 L377.56,126.89 L376.24,126.17 L374.91,125.45 L373.58,124.74 L372.25,124.04 L370.91,123.35 L369.56,122.67 L368.21,122.00 L366.86,121.34 L365.50,120.69 L364.14,120.05 L362.78,119.41 L361.41,118.79 L360.03,118.17 L358.65,117.57 L357.27,116.97 L355.89,116.38 L354.50,115.80 L353.11,115.22 L351.71,114.66 L350.32,114.10 L348.91,113.55 L347.51,113.01 L346.10,112.48 L344.69,111.95 L343.28,111.43 L341.87,110.92 L340.46,110.43 L339.05,109.91 L337.63,109.40 L336.21,108.89 L334.78,108.39 L333.35,107.89 L331.92,107.40 L330.49,106.92 L329.05,106.45 L327.61,105.98 L326.18,105.52 L324.73,105.06 L323.29,104.61 L321.85,104.17 L320.40,103.73 L318.95,103.30 L317.50,102.88 L316.05,102.46 L314.60,102.05 L313.15,101.64 L311.69,101.24 L310.23,100.84 L308.77,100.45 L307.32,100.07 L305.85,99.69 L304.39,99.31 L302.93,98.95 L301.46,98.58 L300.00,98.22 L298.53,97.87 L297.06,97.52 L295.59,97.18 L294.12,96.84 L292.65,96.51 L291.19,96.18 L289.72,95.85 L288.25,95.52 L286.78,95.19 L285.30,94.86 L283.83,94.53 L282.35,94.21 L280.87,93.90 L279.39,93.59 L277.91,93.28 L276.43,92.98 L274.95,92.68 L273.47,92.39 L271.99,92.10 L270.50,91.82 L269.02,91.53 L267.54,91.26 L266.05,90.98 L264.57,90.72 L263.08,90.45 L261.59,90.19 L260.11,89.93 L258.62,89.68 L257.13,89.43 L255.64,89.18 L254.15,88.94 L252.66,88.70 L251.17,88.46 L249.68,88.23 L248.19,88.00 L246.70,87.78 L245.21,87.55 L243.72,87.34 L242.22,87.12 L240.73,86.91 L239.24,86.70 L237.75,86.49 L236.26,86.28 L234.76,86.08 L233.27,85.88 L231.77,85.68 L230.28,85.49 L228.78,85.30 L227.29,85.11 L225.79,84.93 L224.29,84.75 L222.80,84.57 L221.30,84.39 L219.81,84.22 L218.31,84.04 L216.81,83.87 L215.32,83.71 L213.82,83.54 L212.32,83.37 L210.83,83.21 L209.34,83.04 L207.84,82.88 L206.35,82.71 L204.86,82.54 L203.37,82.36 L201.88,82.18 L200.40,81.98 L198.91,81.78 L197.44,81.57 L195.98,81.33 L194.52,81.06 L193.08,80.75 L191.65,80.39 L190.24,79.96 L188.84,79.44 L187.45,78.79 L186.06,77.98 L184.62,76.88Z" fill="#ff0000" stroke="none"/>
<path d="M181.11,74.08 L182.67,75.23 L184.28,76.21 L185.89,76.98 L187.48,77.60 L189.06,78.10 L190.63,78.50 L192.18,78.82 L193.73,79.09 L195.26,79.32 L196.78,79.52 L198.30,79.69 L199.80,79.85 L201.30,80.01 L202.81,80.16 L204.31,80.31 L205.81,80.45 L207.31,80.59 L208.81,80.73 L210.31,80.87 L211.80,81.01 L213.30,81.15 L214.79,81.28 L216.29,81.42 L217.78,81.56 L219.28,81.71 L220.77,81.85 L222.26,82.00 L223.76,82.15 L225.25,82.30 L226.74,82.45 L228.24,82.61 L229.73,82.76 L231.22,82.92 L232.71,83.09 L234.20,83.25 L235.69,83.42 L237.18,83.59 L238.68,83.76 L240.17,83.93 L241.66,84.11 L243.15,84.28 L244.64,84.46 L246.13,84.64 L247.62,84.83 L249.11,85.01 L250.59,85.20 L252.08,85.39 L253.57,85.59 L255.06,85.78 L256.54,85.98 L258.03,86.19 L259.51,86.39 L261.00,86.60 L262.49,86.81 L263.97,87.03 L265.45,87.25 L266.94,87.47 L268.42,87.69 L269.91,87.92 L271.39,88.15 L272.87,88.38 L274.35,88.62 L275.83,88.86 L277.31,89.10 L278.79,89.35 L280.27,89.60 L281.75,89.85 L283.23,90.11 L284.71,90.37 L286.19,90.63 L287.66,90.90 L289.14,91.17 L290.63,91.44 L292.10,91.70 L293.58,91.97 L295.05,92.24 L296.53,92.51 L298.00,92.79 L299.47,93.07 L300.94,93.36 L302.41,93.65 L303.88,93.94 L305.35,94.24 L306.81,94.54 L308.28,94.85 L309.75,95.15 L311.21,95.47 L312.67,95.79 L314.14,96.11 L315.60,96.43 L317.06,96.77 L318.52,97.10 L319.98,97.44 L321.44,97.78 L322.89,98.13 L324.35,98.49 L325.80,98.84 L327.25,99.21 L328.71,99.57 L330.16,99.95 L331.61,100.32 L333.05,100.71 L334.50,101.09 L335.95,101.48 L337.39,101.88 L338.84,102.29 L340.29,102.69 L341.73,103.09 L343.17,103.49 L344.60,103.90 L346.04,104.31 L347.47,104.73 L348.90,105.15 L350.33,105.58 L351.76,106.02 L353.18,106.46 L354.61,106.91 L356.03,107.36 L357.45,107.82 L358.87,108.29 L360.28,108.76 L361.69,109.24 L363.10,109.72 L364.51,110.21 L365.92,110.71 L367.32,111.22 L368.72,111.73 L370.12,112.25 L371.52,112.77 L372.91,113.30 L374.30,113.84 L375.69,114.39 L377.07,114.94 L378.45,115.50 L379.83,116.07 L381.21,116.64 L382.58,117.22 L383.95,117.81 L385.31,118.41 L386.67,119.01 L388.03,119.62 L389.39,120.24 L390.74,120.87 L392.08,121.50 L393.42,122.15 L394.76,122.80 L396.09,123.46 L397.42,124.13 L398.75,124.81 L400.06,125.50 L401.38,126.19 L402.69,126.90 L403.99,127.61 L405.29,128.34 L406.59,129.07 L407.88,129.81 L409.16,130.56 L410.44,131.33 L411.71,132.10 L412.97,132.88 L414.23,133.67 L415.48,134.47 L416.73,135.28 L417.97,136.10 L419.20,136.93 L420.43,137.78 L421.64,138.63 L422.86,139.49 L424.06,140.36 L425.25,141.25 L426.44,142.14 L427.62,143.04 L428.79,143.96 L429.96,144.88 L431.11,145.82 L432.26,146.77 L433.40,147.72 L434.52,148.69 L435.64,149.67 L436.75,150.66 L437.85,151.66 L438.94,152.67 L440.02,153.70 L441.09,154.73 L442.15,155.78 L443.20,156.83 L444.24,157.90 L445.27,158.98 L446.29,160.06 L447.29,161.16 L448.29,162.27 L449.27,163.39 L450.25,164.52 L451.21,165.66 L452.16,166.80 L453.10,167.96 L454.02,169.13 L454.94,170.31 L455.83,171.49 L456.71,172.68 L457.58,173.89 L458.43,175.10 L459.28,176.32 L460.11,177.56 L460.93,178.80 L461.74,180.04 L462.53,181.30 L463.31,182.56 L464.08,183.84 L464.84,185.12 L465.59,186.40 L466.32,187.70 L467.05,189.00 L467.76,190.31 L468.45,191.63 L469.14,192.95 L469.81,194.28 L470.48,195.61 L471.13,196.95 L471.77,198.30 L472.39,199.65 L473.01,201.01 L473.62,202.38 L474.21,203.75 L474.79,205.12 L475.36,206.50 L475.93,207.89 L476.48,209.28 L477.02,210.67 L477.55,212.07 L478.06,213.47 L478.57,214.88 L479.07,216.29 L479.56,217.71 L480.04,219.13 L480.51,220.56 L480.97,221.98 L481.42,223.41 L481.86,224.85 L482.29,226.29 L482.72,227.73 L483.13,229.17 L483.54,230.62 L483.94,232.06 L484.33,233.52 L484.71,234.97 L485.08,236.43 L485.45,237.88 L485.80,239.35 L486.16,240.82 L486.52,242.29 L486.87,243.75 L487.21,245.22 L487.54,246.69 L487.87,248.16 L488.19,249.64 L488.50,251.11 L488.81,252.59 L489.11,254.07 L489.41,255.55 L489.69,257.03 L489.98,258.51 L490.25,260.00 L490.52,261.48 L490.79,262.97 L491.05,264.46 L491.30,265.95 L491.55,267.44 L491.79,268.93 L492.03,270.42 L492.26,271.91 L492.49,273.40 L492.71,274.90 L492.93,276.39 L493.15,277.89 L493.35,279.39 L493.56,280.88 L493.76,282.38 L493.95,283.88 L494.15,285.38 L494.33,286.88 L494.52,288.38 L494.70,289.88 L494.87,291.38 L495.05,292.89 L495.21,294.39 L495.38,295.89 L495.54,297.40 L495.70,298.90 L495.85,300.40 L496.00,301.91 L496.15,303.42 L496.30,304.92 L496.44,306.43 L496.58,307.93 L496.71,309.44 L496.84,310.95 L496.97,312.46 L497.10,313.96 L497.22,315.47 L497.35,316.98 L497.47,318.49 L497.58,320.01 L497.72,321.53 L497.85,323.04 L497.98,324.55 L498.11,326.06 L498.24,327.57 L498.36,329.08 L498.48,330.59 L498.60,332.10 L498.72,333.61 L498.83,335.12 L498.94,336.63 L499.06,338.15 L499.16,339.66 L499.27,341.17 L499.38,342.68 L499.48,344.19 L499.58,345.71 L499.68,347.22 L499.78,348.73 L499.88,350.24 L499.97,351.76 L500.07,353.27 L500.16,354.78 L500.25,356.29 L500.34,357.81 L500.43,359.32 L500.51,360.83 L500.60,362.35 L500.68,363.86 L500.76,365.37 L500.83,366.87 L500.89,368.38 L500.94,369.89 L501.00,371.40 L501.05,372.92 L504.37,372.80 L504.32,371.28 L504.26,369.77 L504.20,368.25 L504.14,366.73 L504.07,365.20 L503.99,363.68 L503.91,362.16 L503.82,360.65 L503.74,359.13 L503.65,357.61 L503.56,356.10 L503.47,354.58 L503.37,353.07 L503.28,351.55 L503.19,350.03 L503.09,348.52 L502.99,347.00 L502.89,345.48 L502.79,343.97 L502.68,342.45 L502.58,340.94 L502.47,339.42 L502.36,337.91 L502.25,336.39 L502.13,334.87 L502.02,333.36 L501.90,331.84 L501.78,330.33 L501.66,328.81 L501.53,327.30 L501.41,325.78 L501.28,324.27 L501.15,322.75 L501.01,321.24 L500.88,319.74 L500.77,318.23 L500.65,316.72 L500.52,315.20 L500.40,313.69 L500.27,312.17 L500.14,310.66 L500.01,309.15 L499.87,307.63 L499.73,306.12 L499.59,304.61 L499.44,303.10 L499.29,301.58 L499.14,300.07 L498.98,298.56 L498.82,297.05 L498.66,295.54 L498.50,294.02 L498.33,292.51 L498.15,291.00 L497.97,289.49 L497.79,287.98 L497.61,286.47 L497.42,284.97 L497.22,283.46 L497.02,281.95 L496.82,280.44 L496.62,278.93 L496.40,277.43 L496.19,275.92 L495.97,274.42 L495.74,272.91 L495.51,271.41 L495.27,269.90 L495.03,268.40 L494.79,266.90 L494.53,265.40 L494.28,263.90 L494.01,262.40 L493.74,260.90 L493.47,259.40 L493.19,257.91 L492.90,256.41 L492.61,254.92 L492.31,253.42 L492.00,251.93 L491.69,250.44 L491.37,248.95 L491.05,247.46 L490.71,245.98 L490.37,244.49 L490.02,243.01 L489.67,241.53 L489.31,240.05 L488.95,238.58 L488.59,237.10 L488.21,235.63 L487.83,234.16 L487.44,232.68 L487.05,231.22 L486.64,229.75 L486.22,228.29 L485.80,226.83 L485.37,225.37 L484.92,223.91 L484.47,222.46 L484.01,221.01 L483.54,219.56 L483.06,218.12 L482.57,216.68 L482.07,215.24 L481.55,213.81 L481.03,212.38 L480.50,210.96 L479.96,209.54 L479.40,208.12 L478.84,206.71 L478.26,205.31 L477.67,203.91 L477.08,202.51 L476.47,201.12 L475.84,199.73 L475.21,198.35 L474.57,196.98 L473.91,195.61 L473.24,194.25 L472.56,192.89 L471.87,191.54 L471.16,190.20 L470.45,188.86 L469.72,187.53 L468.98,186.20 L468.22,184.89 L467.46,183.58 L466.68,182.27 L465.89,180.98 L465.09,179.69 L464.27,178.42 L463.44,177.15 L462.60,175.88 L461.75,174.63 L460.89,173.39 L460.01,172.15 L459.12,170.92 L458.22,169.70 L457.30,168.49 L456.36,167.29 L455.41,166.10 L454.45,164.92 L453.48,163.75 L452.50,162.59 L451.51,161.44 L450.50,160.30 L449.48,159.17 L448.46,158.05 L447.42,156.94 L446.37,155.85 L445.31,154.76 L444.24,153.68 L443.16,152.61 L442.07,151.56 L440.97,150.51 L439.86,149.48 L438.74,148.46 L437.61,147.45 L436.47,146.45 L435.33,145.46 L434.17,144.48 L433.00,143.51 L431.83,142.56 L430.65,141.61 L429.46,140.68 L428.26,139.75 L427.05,138.84 L425.84,137.94 L424.62,137.05 L423.39,136.16 L422.15,135.29 L420.91,134.43 L419.66,133.58 L418.40,132.75 L417.14,131.92 L415.87,131.10 L414.59,130.29 L413.31,129.49 L412.02,128.70 L410.73,127.92 L409.43,127.16 L408.12,126.40 L406.81,125.65 L405.49,124.91 L404.17,124.18 L402.85,123.46 L401.52,122.75 L400.18,122.04 L398.84,121.35 L397.50,120.67 L396.15,119.99 L394.79,119.33 L393.44,118.67 L392.08,118.02 L390.71,117.38 L389.34,116.75 L387.97,116.12 L386.59,115.51 L385.21,114.90 L383.83,114.30 L382.44,113.71 L381.06,113.13 L379.67,112.55 L378.27,111.98 L376.87,111.42 L375.47,110.86 L374.07,110.31 L372.66,109.77 L371.25,109.23 L369.84,108.71 L368.42,108.19 L367.01,107.67 L365.59,107.17 L364.17,106.67 L362.74,106.17 L361.32,105.69 L359.89,105.20 L358.46,104.73 L357.03,104.26 L355.59,103.80 L354.16,103.35 L352.72,102.90 L351.28,102.46 L349.84,102.02 L348.40,101.59 L346.95,101.16 L345.51,100.74 L344.06,100.33 L342.61,99.92 L341.16,99.52 L339.72,99.12 L338.27,98.71 L336.82,98.31 L335.36,97.91 L333.90,97.52 L332.45,97.13 L330.99,96.75 L329.52,96.37 L328.06,96.00 L326.60,95.63 L325.14,95.27 L323.67,94.91 L322.20,94.56 L320.74,94.21 L319.27,93.87 L317.80,93.53 L316.33,93.19 L314.86,92.86 L313.39,92.54 L311.91,92.22 L310.44,91.90 L308.96,91.58 L307.49,91.28 L306.01,90.97 L304.54,90.67 L303.06,90.37 L301.58,90.08 L300.10,89.79 L298.62,89.51 L297.14,89.23 L295.66,88.95 L294.18,88.68 L292.70,88.41 L291.22,88.14 L289.74,87.88 L288.26,87.61 L286.78,87.34 L285.29,87.07 L283.81,86.81 L282.32,86.55 L280.84,86.29 L279.35,86.04 L277.86,85.79 L276.37,85.55 L274.89,85.30 L273.40,85.07 L271.91,84.83 L270.42,84.60 L268.93,84.37 L267.44,84.14 L265.95,83.92 L264.46,83.70 L262.97,83.48 L261.47,83.27 L259.98,83.06 L258.49,82.85 L257.00,82.65 L255.50,82.44 L254.01,82.24 L252.52,82.05 L251.02,81.85 L249.53,81.66 L248.03,81.48 L246.54,81.29 L245.04,81.11 L243.55,80.93 L242.05,80.75 L240.56,80.58 L239.07,80.40 L237.57,80.23 L236.07,80.06 L234.58,79.89 L233.08,79.73 L231.58,79.56 L230.09,79.40 L228.59,79.24 L227.09,79.09 L225.59,78.93 L224.10,78.78 L222.60,78.63 L221.10,78.48 L219.60,78.34 L218.10,78.19 L216.61,78.05 L215.11,77.91 L213.61,77.77 L212.11,77.64 L210.62,77.50 L209.12,77.36 L207.62,77.22 L206.13,77.08 L204.64,76.94 L203.14,76.80 L201.65,76.65 L200.16,76.49 L198.66,76.33 L197.19,76.17 L195.71,75.98 L194.25,75.77 L192.80,75.53 L191.35,75.25 L189.92,74.92 L188.51,74.52 L187.11,74.04 L185.72,73.44 L184.33,72.68 L182.89,71.65Z" fill="#00ff00" stroke="none"/>
<path d="M182.68,67.04 L184.24,68.04 L185.85,68.89 L187.46,69.56 L189.05,70.09 L190.62,70.51 L192.18,70.85 L193.73,71.12 L195.27,71.35 L196.80,71.54 L198.32,71.71 L199.84,71.85 L201.35,71.98 L202.86,72.10 L204.36,72.22 L205.87,72.32 L207.37,72.43 L208.87,72.52 L210.37,72.62 L211.87,72.72 L213.37,72.82 L214.86,72.91 L216.36,73.01 L217.86,73.11 L219.35,73.21 L220.85,73.31 L222.35,73.41 L223.84,73.51 L225.34,73.61 L226.83,73.72 L228.33,73.83 L229.82,73.93 L231.32,74.04 L232.81,74.16 L234.31,74.27 L235.80,74.39 L237.30,74.50 L238.79,74.62 L240.28,74.74 L241.77,74.87 L243.27,75.00 L244.76,75.13 L246.26,75.27 L247.75,75.40 L249.24,75.54 L250.74,75.68 L252.23,75.82 L253.72,75.97 L255.21,76.11 L256.71,76.26 L258.20,76.41 L259.69,76.56 L261.18,76.72 L262.67,76.87 L264.17,77.03 L265.66,77.19 L267.15,77.35 L268.64,77.52 L270.13,77.68 L271.62,77.85 L273.11,78.02 L274.60,78.20 L276.09,78.37 L277.58,78.55 L279.07,78.73 L280.55,78.91 L282.04,79.10 L283.53,79.28 L285.02,79.47 L286.51,79.66 L287.99,79.86 L289.48,80.05 L290.97,80.25 L292.46,80.45 L293.95,80.64 L295.43,80.84 L296.92,81.05 L298.40,81.25 L299.89,81.46 L301.37,81.67 L302.86,81.89 L304.34,82.10 L305.82,82.32 L307.30,82.54 L308.79,82.77 L310.27,82.99 L311.75,83.22 L313.23,83.46 L314.71,83.69 L316.19,83.93 L317.67,84.17 L319.15,84.41 L320.63,84.66 L322.11,84.91 L323.59,85.16 L325.06,85.42 L326.54,85.68 L328.02,85.94 L329.49,86.20 L330.97,86.47 L332.44,86.74 L333.92,87.01 L335.39,87.29 L336.86,87.57 L338.34,87.85 L339.82,88.14 L341.30,88.42 L342.77,88.69 L344.24,88.97 L345.71,89.25 L347.18,89.53 L348.64,89.82 L350.11,90.11 L351.58,90.41 L353.04,90.70 L354.51,91.01 L355.97,91.31 L357.43,91.62 L358.90,91.93 L360.36,92.25 L361.82,92.57 L363.28,92.90 L364.73,93.22 L366.19,93.56 L367.65,93.89 L369.10,94.23 L370.56,94.58 L372.01,94.93 L373.46,95.28 L374.91,95.64 L376.37,96.00 L377.81,96.36 L379.26,96.73 L380.71,97.11 L382.16,97.48 L383.60,97.85 L385.05,98.24 L386.49,98.62 L387.93,99.01 L389.37,99.41 L390.81,99.81 L392.24,100.21 L393.68,100.62 L395.11,101.04 L396.54,101.46 L397.97,101.88 L399.40,102.31 L400.82,102.75 L402.25,103.19 L403.67,103.64 L405.09,104.09 L406.51,104.55 L407.93,105.01 L409.35,105.48 L410.76,105.95 L412.17,106.43 L413.58,106.92 L414.99,107.41 L416.39,107.91 L417.79,108.41 L419.19,108.92 L420.59,109.43 L421.99,109.96 L423.38,110.48 L424.77,111.02 L426.16,111.56 L427.55,112.11 L428.93,112.66 L430.31,113.22 L431.69,113.79 L433.06,114.37 L434.43,114.95 L435.80,115.54 L437.16,116.13 L438.52,116.73 L439.88,117.35 L441.23,117.97 L442.58,118.60 L443.93,119.23 L445.27,119.88 L446.61,120.53 L447.95,121.19 L449.28,121.86 L450.61,122.53 L451.93,123.22 L453.25,123.91 L454.57,124.61 L455.88,125.32 L457.18,126.03 L458.48,126.76 L459.78,127.49 L461.07,128.24 L462.36,128.99 L463.64,129.75 L464.91,130.52 L466.18,131.30 L467.44,132.08 L468.70,132.88 L469.95,133.69 L471.20,134.50 L472.44,135.32 L473.67,136.16 L474.90,137.00 L476.12,137.86 L477.33,138.72 L478.54,139.59 L479.74,140.47 L480.93,141.37 L482.11,142.28 L483.29,143.20 L484.46,144.12 L485.62,145.06 L486.77,146.01 L487.92,146.97 L489.05,147.93 L490.18,148.91 L491.30,149.90 L492.41,150.89 L493.51,151.90 L494.61,152.92 L495.69,153.95 L496.76,154.99 L497.83,156.03 L498.88,157.09 L499.93,158.16 L500.96,159.23 L501.98,160.32 L503.00,161.42 L504.00,162.52 L504.99,163.64 L505.98,164.77 L506.95,165.90 L507.91,167.05 L508.86,168.20 L509.80,169.36 L510.72,170.53 L511.62,171.71 L512.51,172.90 L513.38,174.09 L514.24,175.30 L515.10,176.52 L515.94,177.74 L516.76,178.97 L517.58,180.21 L518.39,181.46 L519.18,182.72 L519.96,183.98 L520.73,185.25 L521.49,186.53 L522.23,187.82 L522.97,189.11 L523.69,190.41 L524.40,191.72 L525.10,193.03 L525.79,194.35 L526.47,195.68 L527.13,197.01 L527.79,198.35 L528.43,199.69 L529.06,201.04 L529.69,202.40 L530.29,203.76 L530.89,205.13 L531.48,206.50 L532.06,207.87 L532.63,209.26 L533.18,210.64 L533.73,212.03 L534.26,213.43 L534.79,214.82 L535.31,216.23 L535.81,217.63 L536.31,219.05 L536.79,220.46 L537.27,221.88 L537.74,223.30 L538.19,224.72 L538.64,226.15 L539.08,227.58 L539.51,229.02 L539.94,230.46 L540.35,231.90 L540.76,233.34 L541.15,234.79 L541.54,236.23 L541.92,237.69 L542.29,239.14 L542.67,240.61 L543.05,242.07 L543.42,243.53 L543.79,245.00 L544.15,246.46 L544.50,247.93 L544.84,249.39 L545.18,250.86 L545.51,252.33 L545.83,253.81 L546.15,255.28 L546.46,256.76 L546.76,258.24 L547.06,259.72 L547.35,261.20 L547.64,262.68 L547.92,264.16 L548.19,265.64 L548.46,267.13 L548.72,268.62 L548.98,270.10 L549.24,271.59 L549.48,273.08 L549.72,274.57 L549.96,276.06 L550.19,277.56 L550.42,279.05 L550.64,280.54 L550.86,282.04 L551.08,283.53 L551.29,285.03 L551.49,286.53 L551.69,288.02 L551.89,289.52 L552.08,291.02 L552.27,292.52 L552.45,294.02 L552.63,295.52 L552.81,297.02 L552.98,298.53 L553.15,300.03 L553.32,301.53 L553.48,303.03 L553.64,304.54 L553.80,306.04 L553.95,307.55 L554.10,309.05 L554.25,310.56 L554.39,312.06 L554.53,313.57 L554.67,315.07 L554.80,316.58 L554.93,318.09 L555.07,319.61 L555.22,321.14 L555.38,322.65 L555.54,324.16 L555.69,325.67 L555.84,327.18 L555.99,328.68 L556.14,330.19 L556.29,331.70 L556.43,333.21 L556.57,334.72 L556.71,336.23 L556.84,337.74 L556.98,339.25 L557.11,340.76 L557.24,342.27 L557.37,343.78 L557.49,345.30 L557.62,346.81 L557.74,348.32 L557.86,349.83 L557.98,351.34 L558.10,352.85 L558.21,354.36 L558.33,355.88 L558.44,357.39 L558.55,358.90 L558.66,360.41 L558.77,361.93 L558.87,363.44 L558.98,364.95 L559.07,366.44 L559.13,367.94 L559.20,369.45 L559.26,370.96 L559.32,372.48 L562.64,372.34 L562.57,370.83 L562.51,369.31 L562.45,367.79 L562.38,366.26 L562.28,364.73 L562.18,363.21 L562.07,361.69 L561.96,360.18 L561.85,358.66 L561.74,357.15 L561.63,355.63 L561.51,354.11 L561.40,352.60 L561.28,351.08 L561.16,349.57 L561.04,348.05 L560.92,346.54 L560.79,345.02 L560.66,343.51 L560.54,341.99 L560.41,340.48 L560.27,338.96 L560.14,337.45 L560.00,335.93 L559.86,334.42 L559.72,332.90 L559.58,331.39 L559.43,329.87 L559.28,328.36 L559.13,326.85 L558.98,325.33 L558.82,323.82 L558.66,322.30 L558.51,320.80 L558.36,319.30 L558.23,317.80 L558.10,316.29 L557.96,314.78 L557.82,313.26 L557.68,311.75 L557.54,310.24 L557.39,308.73 L557.24,307.22 L557.09,305.70 L556.93,304.19 L556.77,302.68 L556.60,301.17 L556.44,299.66 L556.26,298.15 L556.09,296.64 L555.91,295.13 L555.73,293.62 L555.54,292.11 L555.35,290.61 L555.16,289.10 L554.96,287.59 L554.75,286.08 L554.55,284.58 L554.33,283.07 L554.12,281.57 L553.90,280.06 L553.67,278.56 L553.44,277.05 L553.21,275.55 L552.97,274.05 L552.72,272.55 L552.47,271.05 L552.21,269.55 L551.95,268.05 L551.68,266.55 L551.41,265.05 L551.13,263.56 L550.85,262.06 L550.56,260.57 L550.26,259.07 L549.96,257.58 L549.65,256.09 L549.33,254.60 L549.01,253.11 L548.68,251.63 L548.35,250.14 L548.00,248.66 L547.65,247.18 L547.30,245.70 L546.93,244.22 L546.56,242.74 L546.18,241.26 L545.80,239.80 L545.43,238.34 L545.05,236.87 L544.66,235.40 L544.26,233.94 L543.86,232.48 L543.44,231.01 L543.02,229.56 L542.59,228.10 L542.15,226.65 L541.70,225.20 L541.24,223.75 L540.77,222.31 L540.29,220.87 L539.80,219.43 L539.30,218.00 L538.79,216.57 L538.28,215.14 L537.75,213.72 L537.21,212.30 L536.66,210.89 L536.10,209.48 L535.53,208.07 L534.95,206.67 L534.36,205.27 L533.75,203.88 L533.14,202.49 L532.51,201.11 L531.87,199.74 L531.23,198.37 L530.57,197.00 L529.89,195.64 L529.21,194.29 L528.52,192.94 L527.81,191.60 L527.09,190.26 L526.36,188.94 L525.62,187.61 L524.87,186.30 L524.10,184.99 L523.33,183.69 L522.54,182.40 L521.74,181.11 L520.92,179.84 L520.10,178.57 L519.26,177.31 L518.41,176.05 L517.55,174.81 L516.68,173.57 L515.80,172.34 L514.90,171.12 L514.00,169.91 L513.07,168.70 L512.12,167.51 L511.16,166.32 L510.19,165.15 L509.21,163.98 L508.22,162.83 L507.22,161.68 L506.20,160.55 L505.18,159.42 L504.15,158.30 L503.10,157.20 L502.05,156.10 L500.99,155.01 L499.91,153.93 L498.83,152.87 L497.74,151.81 L496.64,150.76 L495.53,149.72 L494.41,148.70 L493.28,147.68 L492.14,146.67 L490.99,145.68 L489.84,144.69 L488.68,143.71 L487.51,142.75 L486.33,141.79 L485.14,140.85 L483.95,139.91 L482.74,138.98 L481.53,138.07 L480.32,137.16 L479.09,136.27 L477.86,135.39 L476.63,134.52 L475.38,133.66 L474.13,132.81 L472.88,131.97 L471.61,131.14 L470.35,130.31 L469.07,129.50 L467.79,128.70 L466.51,127.90 L465.22,127.12 L463.92,126.34 L462.62,125.58 L461.31,124.82 L460.00,124.07 L458.69,123.33 L457.36,122.60 L456.04,121.88 L454.71,121.16 L453.38,120.46 L452.04,119.76 L450.70,119.07 L449.35,118.39 L448.00,117.72 L446.64,117.05 L445.29,116.40 L443.93,115.75 L442.56,115.11 L441.19,114.47 L439.82,113.85 L438.44,113.23 L437.06,112.63 L435.68,112.03 L434.30,111.43 L432.91,110.85 L431.52,110.27 L430.13,109.70 L428.73,109.14 L427.34,108.58 L425.93,108.03 L424.53,107.49 L423.13,106.95 L421.72,106.42 L420.31,105.89 L418.89,105.38 L417.48,104.86 L416.06,104.36 L414.64,103.86 L413.22,103.37 L411.80,102.88 L410.37,102.40 L408.95,101.92 L407.52,101.45 L406.09,100.99 L404.66,100.53 L403.22,100.08 L401.79,99.63 L400.35,99.19 L398.91,98.75 L397.47,98.32 L396.03,97.89 L394.59,97.47 L393.14,97.06 L391.69,96.65 L390.25,96.24 L388.80,95.84 L387.35,95.44 L385.90,95.05 L384.44,94.67 L382.99,94.28 L381.54,93.91 L380.08,93.54 L378.63,93.16 L377.17,92.79 L375.71,92.43 L374.25,92.06 L372.79,91.71 L371.33,91.35 L369.87,91.01 L368.40,90.66 L366.94,90.32 L365.47,89.99 L364.00,89.65 L362.54,89.32 L361.07,89.00 L359.60,88.68 L358.13,88.36 L356.66,88.05 L355.19,87.74 L353.71,87.44 L352.24,87.14 L350.77,86.84 L349.29,86.54 L347.82,86.25 L346.34,85.97 L344.86,85.68 L343.39,85.40 L341.91,85.13 L340.44,84.86 L338.97,84.57 L337.49,84.29 L336.01,84.01 L334.53,83.73 L333.05,83.45 L331.57,83.18 L330.09,82.91 L328.61,82.64 L327.12,82.38 L325.64,82.12 L324.16,81.86 L322.67,81.60 L321.19,81.35 L319.70,81.10 L318.22,80.86 L316.73,80.61 L315.24,80.37 L313.76,80.14 L312.27,79.90 L310.78,79.67 L309.29,79.44 L307.81,79.22 L306.32,78.99 L304.83,78.77 L303.34,78.56 L301.85,78.34 L300.36,78.13 L298.87,77.92 L297.38,77.71 L295.89,77.51 L294.40,77.30 L292.90,77.10 L291.41,76.91 L289.92,76.71 L288.43,76.51 L286.94,76.32 L285.45,76.13 L283.95,75.94 L282.46,75.75 L280.97,75.56 L279.47,75.38 L277.98,75.20 L276.49,75.02 L274.99,74.84 L273.50,74.67 L272.00,74.50 L270.51,74.33 L269.01,74.16 L267.52,73.99 L266.02,73.83 L264.52,73.67 L263.03,73.51 L261.53,73.35 L260.04,73.20 L258.54,73.05 L257.04,72.89 L255.55,72.75 L254.05,72.60 L252.55,72.45 L251.05,72.31 L249.56,72.17 L248.06,72.03 L246.56,71.90 L245.06,71.76 L243.57,71.63 L242.07,71.50 L240.57,71.37 L239.07,71.24 L237.57,71.12 L236.07,71.01 L234.57,70.89 L233.07,70.78 L231.57,70.66 L230.07,70.55 L228.57,70.44 L227.07,70.34 L225.58,70.23 L224.08,70.13 L222.58,70.02 L221.08,69.92 L219.58,69.82 L218.08,69.72 L216.58,69.62 L215.08,69.53 L213.58,69.43 L212.09,69.33 L210.59,69.24 L209.09,69.14 L207.60,69.04 L206.10,68.94 L204.61,68.83 L203.12,68.72 L201.63,68.61 L200.14,68.48 L198.66,68.34 L197.18,68.19 L195.72,68.01 L194.26,67.80 L192.81,67.56 L191.37,67.28 L189.95,66.94 L188.54,66.52 L187.14,66.00 L185.76,65.36 L184.32,64.46Z" fill="#0000ff" stroke="none"/>
<path d="M183.54,52.44 L185.10,53.17 L186.71,53.78 L188.30,54.25 L189.87,54.61 L191.43,54.89 L192.98,55.12 L194.52,55.30 L196.04,55.45 L197.56,55.58 L199.08,55.69 L200.59,55.79 L202.10,55.87 L203.61,55.95 L205.11,56.03 L206.61,56.10 L208.11,56.16 L209.61,56.23 L211.11,56.29 L212.61,56.36 L214.11,56.42 L215.61,56.49 L217.11,56.55 L218.61,56.62 L220.11,56.68 L221.60,56.75 L223.10,56.82 L224.60,56.88 L226.10,56.95 L227.59,57.02 L229.09,57.09 L230.59,57.16 L232.09,57.23 L233.58,57.31 L235.08,57.38 L236.58,57.45 L238.08,57.53 L239.57,57.61 L241.07,57.69 L242.57,57.76 L244.06,57.84 L245.56,57.92 L247.06,58.01 L248.56,58.09 L250.05,58.17 L251.55,58.26 L253.05,58.34 L254.54,58.43 L256.04,58.52 L257.53,58.61 L259.03,58.70 L260.53,58.79 L262.02,58.88 L263.52,58.97 L265.02,59.07 L266.51,59.16 L268.01,59.26 L269.50,59.35 L271.00,59.45 L272.50,59.55 L273.99,59.65 L275.49,59.76 L276.98,59.86 L278.48,59.96 L279.97,60.07 L281.47,60.17 L282.96,60.28 L284.46,60.39 L285.95,60.50 L287.45,60.61 L288.94,60.72 L290.44,60.83 L291.93,60.95 L293.43,61.06 L294.92,61.18 L296.42,61.29 L297.91,61.41 L299.41,61.53 L300.90,61.65 L302.39,61.77 L303.89,61.90 L305.38,62.02 L306.88,62.15 L308.37,62.27 L309.86,62.40 L311.36,62.53 L312.85,62.66 L314.34,62.79 L315.84,62.92 L317.33,63.06 L318.82,63.19 L320.32,63.33 L321.81,63.47 L323.30,63.61 L324.79,63.75 L326.29,63.89 L327.78,64.03 L329.27,64.17 L330.76,64.32 L332.25,64.46 L333.75,64.61 L335.24,64.76 L336.73,64.91 L338.22,65.06 L339.71,65.22 L341.20,65.37 L342.69,65.53 L344.18,65.68 L345.67,65.84 L347.16,66.00 L348.65,66.16 L350.14,66.32 L351.63,66.49 L353.12,66.65 L354.61,66.82 L356.10,66.99 L357.59,67.16 L359.08,67.33 L360.57,67.50 L362.06,67.68 L363.55,67.85 L365.04,68.03 L366.53,68.21 L368.01,68.39 L369.50,68.57 L370.99,68.75 L372.48,68.93 L373.96,69.12 L375.45,69.31 L376.94,69.50 L378.42,69.69 L379.91,69.88 L381.40,70.07 L382.88,70.27 L384.37,70.47 L385.85,70.66 L387.34,70.86 L388.83,71.07 L390.31,71.27 L391.79,71.48 L393.28,71.68 L394.76,71.89 L396.25,72.10 L397.73,72.31 L399.22,72.53 L400.70,72.74 L402.18,72.95 L403.67,73.17 L405.15,73.39 L406.63,73.60 L408.11,73.82 L409.60,74.05 L411.08,74.27 L412.56,74.50 L414.04,74.72 L415.52,74.95 L417.00,75.18 L418.48,75.42 L419.96,75.65 L421.44,75.89 L422.91,76.13 L424.39,76.37 L425.87,76.61 L427.35,76.86 L428.83,77.11 L430.30,77.36 L431.78,77.61 L433.26,77.86 L434.73,78.12 L436.21,78.37 L437.68,78.63 L439.16,78.90 L440.63,79.16 L442.10,79.43 L443.58,79.69 L445.05,79.97 L446.52,80.24 L448.00,80.51 L449.47,80.79 L450.94,81.07 L452.41,81.35 L453.88,81.64 L455.35,81.93 L456.82,82.22 L458.29,82.51 L459.76,82.80 L461.22,83.10 L462.69,83.40 L464.16,83.70 L465.62,84.00 L467.09,84.31 L468.55,84.62 L470.02,84.93 L471.48,85.25 L472.94,85.57 L474.41,85.89 L475.87,86.21 L477.33,86.54 L478.79,86.87 L480.26,87.20 L481.72,87.52 L483.18,87.85 L484.63,88.18 L486.09,88.52 L487.55,88.85 L489.00,89.19 L490.46,89.54 L491.91,89.88 L493.37,90.23 L494.82,90.59 L496.27,90.94 L497.72,91.30 L499.17,91.66 L500.62,92.03 L502.07,92.40 L503.52,92.77 L504.96,93.15 L506.41,93.53 L507.85,93.91 L509.29,94.30 L510.74,94.68 L512.18,95.08 L513.62,95.48 L515.06,95.88 L516.50,96.28 L517.93,96.69 L519.37,97.10 L520.80,97.52 L522.24,97.94 L523.67,98.36 L525.10,98.79 L526.53,99.22 L527.96,99.65 L529.39,100.09 L530.81,100.54 L532.24,100.98 L533.66,101.43 L535.08,101.88 L536.50,102.34 L537.92,102.80 L539.34,103.27 L540.75,103.74 L542.17,104.21 L543.58,104.69 L544.99,105.18 L546.40,105.67 L547.81,106.16 L549.21,106.66 L550.61,107.17 L552.02,107.68 L553.41,108.19 L554.81,108.71 L556.21,109.24 L557.60,109.77 L558.99,110.30 L560.38,110.84 L561.77,111.39 L563.15,111.94 L564.40,112.45 L565.60,109.48 L564.34,108.97 L562.95,108.41 L561.55,107.86 L560.15,107.31 L558.75,106.77 L557.35,106.23 L555.94,105.70 L554.53,105.17 L553.13,104.65 L551.71,104.13 L550.30,103.62 L548.89,103.12 L547.47,102.62 L546.05,102.12 L544.63,101.63 L543.21,101.14 L541.79,100.66 L540.36,100.18 L538.94,99.71 L537.51,99.24 L536.08,98.78 L534.65,98.32 L533.22,97.87 L531.79,97.42 L530.35,96.97 L528.92,96.53 L527.48,96.09 L526.04,95.65 L524.60,95.22 L523.16,94.79 L521.72,94.37 L520.28,93.95 L518.84,93.53 L517.39,93.12 L515.95,92.71 L514.50,92.31 L513.05,91.91 L511.60,91.51 L510.15,91.12 L508.70,90.73 L507.25,90.34 L505.80,89.96 L504.34,89.58 L502.89,89.20 L501.43,88.83 L499.98,88.46 L498.52,88.09 L497.06,87.73 L495.60,87.37 L494.15,87.02 L492.69,86.66 L491.23,86.31 L489.76,85.97 L488.30,85.62 L486.84,85.28 L485.38,84.95 L483.91,84.61 L482.45,84.28 L480.98,83.95 L479.52,83.62 L478.06,83.29 L476.59,82.97 L475.12,82.64 L473.65,82.32 L472.19,82.00 L470.72,81.68 L469.25,81.36 L467.78,81.05 L466.30,80.74 L464.83,80.44 L463.36,80.13 L461.89,79.83 L460.42,79.53 L458.94,79.23 L457.47,78.94 L455.99,78.65 L454.52,78.36 L453.04,78.07 L451.57,77.79 L450.09,77.51 L448.61,77.23 L447.14,76.95 L445.66,76.67 L444.18,76.40 L442.70,76.13 L441.23,75.86 L439.75,75.60 L438.27,75.33 L436.79,75.07 L435.31,74.81 L433.83,74.56 L432.35,74.30 L430.86,74.05 L429.38,73.80 L427.90,73.55 L426.42,73.30 L424.94,73.06 L423.45,72.81 L421.97,72.57 L420.49,72.34 L419.00,72.10 L417.52,71.86 L416.04,71.63 L414.55,71.40 L413.07,71.17 L411.58,70.95 L410.10,70.72 L408.61,70.50 L407.13,70.28 L405.64,70.06 L404.15,69.84 L402.67,69.62 L401.18,69.41 L399.70,69.19 L398.21,68.98 L396.72,68.77 L395.23,68.56 L393.75,68.35 L392.26,68.14 L390.77,67.93 L389.28,67.73 L387.79,67.52 L386.30,67.32 L384.81,67.12 L383.32,66.93 L381.84,66.73 L380.35,66.54 L378.86,66.34 L377.37,66.15 L375.87,65.96 L374.38,65.77 L372.89,65.59 L371.40,65.40 L369.91,65.22 L368.42,65.03 L366.93,64.85 L365.44,64.68 L363.95,64.50 L362.45,64.32 L360.96,64.15 L359.47,63.97 L357.98,63.80 L356.48,63.63 L354.99,63.46 L353.50,63.30 L352.01,63.13 L350.51,62.96 L349.02,62.80 L347.53,62.64 L346.03,62.48 L344.54,62.32 L343.05,62.16 L341.55,62.01 L340.06,61.85 L338.56,61.70 L337.07,61.55 L335.58,61.39 L334.08,61.25 L332.59,61.10 L331.09,60.95 L329.60,60.80 L328.10,60.66 L326.61,60.52 L325.11,60.38 L323.62,60.23 L322.12,60.10 L320.63,59.96 L319.13,59.82 L317.63,59.69 L316.14,59.55 L314.64,59.42 L313.15,59.29 L311.65,59.16 L310.15,59.03 L308.66,58.90 L307.16,58.77 L305.66,58.65 L304.17,58.52 L302.67,58.40 L301.17,58.27 L299.68,58.15 L298.18,58.03 L296.68,57.91 L295.19,57.80 L293.69,57.68 L292.19,57.57 L290.70,57.45 L289.20,57.34 L287.70,57.23 L286.20,57.12 L284.71,57.01 L283.21,56.90 L281.71,56.79 L280.21,56.68 L278.71,56.58 L277.22,56.47 L275.72,56.37 L274.22,56.27 L272.72,56.17 L271.22,56.07 L269.73,55.97 L268.23,55.87 L266.73,55.77 L265.23,55.68 L263.73,55.58 L262.23,55.49 L260.73,55.40 L259.24,55.31 L257.74,55.22 L256.24,55.13 L254.74,55.04 L253.24,54.95 L251.74,54.87 L250.24,54.78 L248.74,54.70 L247.24,54.62 L245.75,54.53 L244.25,54.45 L242.75,54.37 L241.25,54.29 L239.75,54.22 L238.25,54.14 L236.75,54.06 L235.25,53.99 L233.75,53.91 L232.25,53.84 L230.75,53.77 L229.25,53.70 L227.75,53.63 L226.25,53.56 L224.75,53.49 L223.25,53.42 L221.75,53.35 L220.25,53.29 L218.76,53.22 L217.26,53.16 L215.76,53.09 L214.26,53.03 L212.76,52.97 L211.26,52.90 L209.76,52.84 L208.26,52.77 L206.77,52.70 L205.27,52.63 L203.78,52.56 L202.28,52.48 L200.79,52.40 L199.31,52.30 L197.82,52.20 L196.35,52.08 L194.87,51.94 L193.41,51.78 L191.96,51.58 L190.52,51.33 L189.10,51.04 L187.69,50.67 L186.30,50.21 L184.86,49.57Z" fill="#ff00ff" stroke="none"/>
<ellipse cx="564.1" cy="56.3" rx="1.6" ry="2.2" fill="#000"/>
<path d="M183.40,35.89 L184.90,36.34 L186.40,36.69 L187.90,36.95 L189.40,37.16 L190.90,37.33 L192.40,37.46 L193.90,37.56 L195.40,37.64 L196.90,37.71 L198.40,37.77 L199.90,37.82 L201.40,37.86 L202.90,37.90 L204.40,37.93 L205.90,37.97 L207.40,38.00 L208.90,38.03 L210.40,38.05 L211.90,38.08 L213.40,38.11 L214.90,38.13 L216.40,38.16 L217.90,38.19 L219.40,38.22 L220.90,38.24 L222.40,38.27 L223.90,38.30 L225.40,38.33 L226.90,38.35 L228.40,38.38 L229.90,38.41 L231.40,38.44 L232.90,38.47 L234.40,38.50 L235.90,38.53 L237.40,38.56 L238.90,38.59 L240.40,38.63 L241.90,38.66 L243.39,38.69 L244.89,38.73 L246.39,38.76 L247.89,38.79 L249.39,38.83 L250.89,38.86 L252.39,38.90 L253.89,38.93 L255.39,38.97 L256.89,39.01 L258.39,39.04 L259.89,39.08 L261.39,39.12 L262.89,39.15 L264.39,39.19 L265.89,39.23 L267.39,39.27 L268.89,39.31 L270.39,39.35 L271.89,39.39 L273.39,39.43 L274.89,39.47 L276.39,39.51 L277.89,39.55 L279.39,39.59 L280.89,39.63 L282.39,39.68 L283.89,39.72 L285.38,39.76 L286.88,39.81 L288.38,39.85 L289.88,39.90 L291.38,39.95 L292.88,39.99 L294.38,40.04 L295.88,40.09 L297.38,40.13 L298.88,40.18 L300.38,40.23 L301.88,40.28 L303.38,40.33 L304.88,40.38 L306.38,40.43 L307.88,40.48 L309.37,40.54 L310.87,40.59 L312.37,40.64 L313.87,40.70 L315.37,40.75 L316.87,40.80 L318.37,40.86 L319.87,40.92 L321.37,40.97 L322.87,41.03 L324.37,41.09 L325.86,41.14 L327.36,41.20 L328.86,41.26 L330.36,41.32 L331.86,41.38 L333.36,41.44 L334.86,41.50 L336.36,41.56 L337.86,41.63 L339.36,41.69 L340.85,41.75 L342.35,41.82 L343.85,41.88 L345.35,41.95 L346.85,42.01 L348.35,42.08 L349.85,42.14 L351.35,42.21 L352.84,42.28 L354.34,42.35 L355.84,42.42 L357.34,42.49 L358.84,42.56 L360.34,42.63 L361.84,42.70 L363.33,42.77 L364.83,42.84 L366.33,42.92 L367.83,42.99 L369.33,43.06 L370.83,43.14 L372.32,43.21 L373.82,43.29 L375.32,43.37 L376.82,43.45 L378.32,43.52 L379.82,43.60 L381.31,43.68 L382.81,43.76 L384.31,43.84 L385.81,43.92 L387.31,44.00 L388.80,44.09 L390.30,44.17 L391.80,44.25 L393.30,44.34 L394.80,44.42 L396.29,44.51 L397.79,44.60 L399.29,44.68 L400.79,44.77 L402.28,44.86 L403.78,44.95 L405.28,45.04 L406.78,45.13 L408.27,45.22 L409.77,45.31 L411.27,45.41 L412.77,45.50 L414.26,45.59 L415.76,45.69 L417.26,45.79 L418.76,45.88 L420.25,45.98 L421.75,46.08 L423.25,46.17 L424.74,46.27 L426.24,46.37 L427.74,46.47 L429.24,46.58 L430.73,46.68 L432.23,46.78 L433.73,46.88 L435.22,46.99 L436.72,47.09 L438.22,47.20 L439.71,47.30 L441.21,47.41 L442.71,47.52 L444.20,47.63 L445.70,47.74 L447.20,47.85 L448.69,47.96 L450.19,48.07 L451.68,48.18 L453.18,48.29 L454.68,48.41 L456.17,48.52 L457.67,48.64 L459.16,48.75 L460.66,48.87 L462.16,48.99 L463.65,49.11 L465.15,49.23 L466.64,49.35 L468.14,49.47 L469.63,49.59 L471.13,49.71 L472.62,49.83 L474.12,49.96 L475.62,50.08 L477.11,50.21 L478.61,50.33 L480.10,50.46 L481.60,50.59 L483.09,50.72 L484.59,50.85 L486.08,50.98 L487.57,51.11 L489.07,51.24 L490.56,51.37 L492.06,51.48 L493.55,51.60 L495.05,51.72 L496.54,51.84 L498.04,51.96 L499.53,52.08 L501.02,52.21 L502.52,52.33 L504.01,52.45 L505.51,52.58 L507.00,52.71 L508.49,52.83 L509.99,52.96 L511.48,53.09 L512.97,53.22 L514.47,53.35 L515.96,53.48 L517.45,53.61 L518.95,53.75 L520.44,53.88 L521.93,54.02 L523.42,54.15 L524.92,54.29 L526.41,54.43 L527.90,54.57 L529.39,54.71 L530.89,54.85 L532.38,54.99 L533.87,55.13 L535.36,55.27 L536.86,55.42 L538.35,55.57 L539.84,55.71 L541.33,55.86 L542.82,56.01 L544.31,56.16 L545.80,56.31 L547.30,56.46 L548.79,56.61 L550.28,56.77 L551.77,56.92 L553.26,57.08 L554.75,57.24 L556.24,57.40 L557.73,57.56 L559.22,57.73 L560.71,57.90 L562.20,58.07 L563.69,58.24 L564.60,58.34" fill="none" stroke="#000000" stroke-width="3.4" stroke-linejoin="round"/>
</g>
<path d="M271.8,222.35H301.1" stroke="#ff0000" stroke-width="3.4" fill="none"/>
<path d="M271.8,241.95H301.1" stroke="#00ff00" stroke-width="3.4" fill="none"/>
<path d="M271.8,261.55H301.1" stroke="#0000ff" stroke-width="3.4" fill="none"/>
<path d="M271.8,281.15H301.1" stroke="#ff00ff" stroke-width="3.4" fill="none"/>
<path d="M271.8,300.75H301.1" stroke="#000000" stroke-width="3.4" fill="none"/>
<g stroke="#111" stroke-width="1.25" fill="none">
<path d="M204.5,365.7V359.7 M204.5,23.6V29.6"/>
<path d="M294.7,365.7V359.7 M294.7,23.6V29.6"/>
<path d="M384.9,365.7V359.7 M384.9,23.6V29.6"/>
<path d="M475.1,365.7V359.7 M475.1,23.6V29.6"/>
<path d="M565.3,365.7V359.7 M565.3,23.6V29.6"/>
<path d="M136.8,127.3H142.8 M610.4,127.3H604.4"/>
<path d="M136.8,230.9H142.8 M610.4,230.9H604.4"/>
<path d="M136.8,334.6H142.8 M610.4,334.6H604.4"/>
<path d="M136.8,96.1H139.8 M610.4,96.1H607.4"/>
<path d="M136.8,54.8H139.8 M610.4,54.8H607.4"/>
<path d="M136.8,33.6H139.8 M610.4,33.6H607.4"/>
<path d="M136.8,199.7H139.8 M610.4,199.7H607.4"/>
<path d="M136.8,158.5H139.8 M610.4,158.5H607.4"/>
<path d="M136.8,137.3H139.8 M610.4,137.3H607.4"/>
<path d="M136.8,303.4H139.8 M610.4,303.4H607.4"/>
<path d="M136.8,262.1H139.8 M610.4,262.1H607.4"/>
<path d="M136.8,241.0H139.8 M610.4,241.0H607.4"/>
<path d="M136.8,344.6H139.8 M610.4,344.6H607.4"/>
<path d="M181.07,23.6V365.7" stroke="#808080" stroke-width="1.46"/><path d="M565.25,23.6V365.7" stroke="#808080" stroke-width="1.4"/>
<path d="M136.15,23.5H611.08" stroke="#000" stroke-width="1.15"/>
<path d="M610.5,23V366.3" stroke="#000" stroke-width="1.15"/>
<path d="M136.85,23V366.3" stroke="#000" stroke-width="1.4"/>
<path d="M136.15,365.8H611.08" stroke="#000" stroke-width="1.0" stroke-opacity="0.75"/>
<path d="M136.15,365.8H611.08" stroke="#000" stroke-width="3" stroke-opacity="0.15"/>
</g>
<g opacity="0.995">
<text transform="translate(90.65,29.40) scale(0.969,1)" font-size="17.60">0</text>
<text transform="translate(100.65,29.40) scale(0.969,1)" font-size="17.60">.</text>
<text transform="translate(105.65,29.40) scale(0.969,1)" font-size="17.60">0</text>
<path transform="translate(115.70,29.40) scale(0.00846,-0.00859)" d="M763 0H583V1147Q518 1085 412.5 1023T223 930V1104Q374 1175 487 1276T647 1472H763Z"/>
<text transform="translate(80.65,133.07) scale(0.969,1)" font-size="17.60">0</text>
<text transform="translate(90.65,133.07) scale(0.969,1)" font-size="17.60">.</text>
<text transform="translate(95.65,133.07) scale(0.969,1)" font-size="17.60">0</text>
<text transform="translate(105.65,133.07) scale(0.969,1)" font-size="17.60">0</text>
<path transform="translate(115.70,133.07) scale(0.00846,-0.00859)" d="M763 0H583V1147Q518 1085 412.5 1023T223 930V1104Q374 1175 487 1276T647 1472H763Z"/>
<text transform="translate(70.65,236.73) scale(0.969,1)" font-size="17.60">0</text>
<text transform="translate(80.65,236.73) scale(0.969,1)" font-size="17.60">.</text>
<text transform="translate(85.65,236.73) scale(0.969,1)" font-size="17.60">0</text>
<text transform="translate(95.65,236.73) scale(0.969,1)" font-size="17.60">0</text>
<text transform="translate(105.65,236.73) scale(0.969,1)" font-size="17.60">0</text>
<path transform="translate(115.70,236.73) scale(0.00846,-0.00859)" d="M763 0H583V1147Q518 1085 412.5 1023T223 930V1104Q374 1175 487 1276T647 1472H763Z"/>
<path transform="translate(69.70,340.40) scale(0.00846,-0.00859)" d="M763 0H583V1147Q518 1085 412.5 1023T223 930V1104Q374 1175 487 1276T647 1472H763Z"/>
<text transform="translate(79.65,340.40) scale(0.969,1)" font-size="17.60">e</text>
<text transform="translate(89.65,340.40) scale(0.969,1)" font-size="17.60">-</text>
<text transform="translate(95.65,340.40) scale(0.969,1)" font-size="17.60">0</text>
<text transform="translate(105.65,340.40) scale(0.969,1)" font-size="17.60">0</text>
<text transform="translate(115.65,340.40) scale(0.969,1)" font-size="17.60">5</text>
<text transform="translate(202.11,391.30) scale(0.969,1)" font-size="17.60">2</text>
<text transform="translate(292.32,391.30) scale(0.969,1)" font-size="17.60">4</text>
<text transform="translate(382.53,391.30) scale(0.969,1)" font-size="17.60">6</text>
<text transform="translate(472.74,391.30) scale(0.969,1)" font-size="17.60">8</text>
<path transform="translate(558.00,391.30) scale(0.00846,-0.00859)" d="M763 0H583V1147Q518 1085 412.5 1023T223 930V1104Q374 1175 487 1276T647 1472H763Z"/>
<text transform="translate(567.95,391.30) scale(0.969,1)" font-size="17.60">0</text>
<g transform="translate(0,228.30)"><path fill="#000" fill-rule="evenodd" d="M199.4,-4.6A4.15,5.45 0 1 0 207.7,-4.6A4.15,5.45 0 1 0 199.4,-4.6ZM201.4,-4.6A2.2,4.4 0 1 1 205.8,-4.6A2.2,4.4 0 1 1 201.4,-4.6Z"/><path fill="none" stroke="#000" stroke-width="1.45" stroke-linecap="round" d="M207.2,-5.6Q208.3,-7.5 209.7,-9.1"/><path fill="none" stroke="#000" stroke-width="1.35" stroke-linecap="round" stroke-linejoin="round" d="M207.2,-3.4Q207.9,0.2 209.4,0.2Q210.3,0.1 210.8,-1.6"/></g>
<path d="M211.8,222.50H220.9M211.8,225.85H220.9" stroke="#000" stroke-width="1.3" fill="none"/>
<text transform="translate(222.14,228.30) scale(1.020,1)" font-size="19.10">0</text>
<text transform="translate(233.47,228.30) scale(1.020,1)" font-size="19.10">.</text>
<text transform="translate(238.12,228.30) scale(1.020,1)" font-size="19.10">2</text>
<text transform="translate(249.67,228.30) scale(1.020,1)" font-size="19.10">5</text>
<g transform="translate(0,247.90)"><path fill="#000" fill-rule="evenodd" d="M199.4,-4.6A4.15,5.45 0 1 0 207.7,-4.6A4.15,5.45 0 1 0 199.4,-4.6ZM201.4,-4.6A2.2,4.4 0 1 1 205.8,-4.6A2.2,4.4 0 1 1 201.4,-4.6Z"/><path fill="none" stroke="#000" stroke-width="1.45" stroke-linecap="round" d="M207.2,-5.6Q208.3,-7.5 209.7,-9.1"/><path fill="none" stroke="#000" stroke-width="1.35" stroke-linecap="round" stroke-linejoin="round" d="M207.2,-3.4Q207.9,0.2 209.4,0.2Q210.3,0.1 210.8,-1.6"/></g>
<path d="M211.8,242.10H220.9M211.8,245.45H220.9" stroke="#000" stroke-width="1.3" fill="none"/>
<text transform="translate(222.14,247.90) scale(1.020,1)" font-size="19.10">0</text>
<text transform="translate(233.47,247.90) scale(1.020,1)" font-size="19.10">.</text>
<text transform="translate(238.12,247.90) scale(1.020,1)" font-size="19.10">2</text>
<text transform="translate(249.67,247.90) scale(1.020,1)" font-size="19.10">3</text>
<g transform="translate(0,267.50)"><path fill="#000" fill-rule="evenodd" d="M199.4,-4.6A4.15,5.45 0 1 0 207.7,-4.6A4.15,5.45 0 1 0 199.4,-4.6ZM201.4,-4.6A2.2,4.4 0 1 1 205.8,-4.6A2.2,4.4 0 1 1 201.4,-4.6Z"/><path fill="none" stroke="#000" stroke-width="1.45" stroke-linecap="round" d="M207.2,-5.6Q208.3,-7.5 209.7,-9.1"/><path fill="none" stroke="#000" stroke-width="1.35" stroke-linecap="round" stroke-linejoin="round" d="M207.2,-3.4Q207.9,0.2 209.4,0.2Q210.3,0.1 210.8,-1.6"/></g>
<path d="M211.8,261.70H220.9M211.8,265.05H220.9" stroke="#000" stroke-width="1.3" fill="none"/>
<text transform="translate(222.14,267.50) scale(1.020,1)" font-size="19.10">0</text>
<text transform="translate(233.47,267.50) scale(1.020,1)" font-size="19.10">.</text>
<text transform="translate(238.12,267.50) scale(1.020,1)" font-size="19.10">2</text>
<text transform="translate(249.67,267.50) scale(1.020,1)" font-size="19.10">0</text>
<g transform="translate(0,287.10)"><path fill="#000" fill-rule="evenodd" d="M199.4,-4.6A4.15,5.45 0 1 0 207.7,-4.6A4.15,5.45 0 1 0 199.4,-4.6ZM201.4,-4.6A2.2,4.4 0 1 1 205.8,-4.6A2.2,4.4 0 1 1 201.4,-4.6Z"/><path fill="none" stroke="#000" stroke-width="1.45" stroke-linecap="round" d="M207.2,-5.6Q208.3,-7.5 209.7,-9.1"/><path fill="none" stroke="#000" stroke-width="1.35" stroke-linecap="round" stroke-linejoin="round" d="M207.2,-3.4Q207.9,0.2 209.4,0.2Q210.3,0.1 210.8,-1.6"/></g>
<path d="M211.8,281.30H220.9M211.8,284.65H220.9" stroke="#000" stroke-width="1.3" fill="none"/>
<text transform="translate(222.14,287.10) scale(1.020,1)" font-size="19.10">0</text>
<text transform="translate(233.47,287.10) scale(1.020,1)" font-size="19.10">.</text>
<path transform="translate(238.32,287.10) scale(0.00962,-0.00923)" d="M763 0H583V1147Q518 1085 412.5 1023T223 930V1104Q374 1175 487 1276T647 1472H763Z"/>
<text transform="translate(249.67,287.10) scale(1.020,1)" font-size="19.10">5</text>
<g transform="translate(0,306.70)"><path fill="#000" fill-rule="evenodd" d="M199.4,-4.6A4.15,5.45 0 1 0 207.7,-4.6A4.15,5.45 0 1 0 199.4,-4.6ZM201.4,-4.6A2.2,4.4 0 1 1 205.8,-4.6A2.2,4.4 0 1 1 201.4,-4.6Z"/><path fill="none" stroke="#000" stroke-width="1.45" stroke-linecap="round" d="M207.2,-5.6Q208.3,-7.5 209.7,-9.1"/><path fill="none" stroke="#000" stroke-width="1.35" stroke-linecap="round" stroke-linejoin="round" d="M207.2,-3.4Q207.9,0.2 209.4,0.2Q210.3,0.1 210.8,-1.6"/></g>
<path d="M211.8,300.90H220.9M211.8,304.25H220.9" stroke="#000" stroke-width="1.3" fill="none"/>
<text transform="translate(222.14,306.70) scale(1.020,1)" font-size="19.10">0</text>
<text transform="translate(233.47,306.70) scale(1.020,1)" font-size="19.10">.</text>
<path transform="translate(238.32,306.70) scale(0.00962,-0.00923)" d="M763 0H583V1147Q518 1085 412.5 1023T223 930V1104Q374 1175 487 1276T647 1472H763Z"/>
<text transform="translate(249.67,306.70) scale(1.020,1)" font-size="19.10">0</text>
<text transform="translate(27.46,140.80) scale(0.920,1)" font-size="21.50">T</text>
<text transform="translate(39.30,146.80) scale(1.000,1)" font-size="16.70">H</text>
<g fill="none" stroke="#000" stroke-linecap="round" stroke-linejoin="round"><path d="M361.8,410.4V419.8Q361.75,421.7 361.05,423.0" stroke-width="1.75"/><path d="M361.9,417.2Q362.3,419.6 364.4,419.6Q366.5,419.55 367.5,417.0" stroke-width="1.6"/><path d="M367.6,410.4V417.7Q367.65,419.2 368.9,419.0L370.3,418.4" stroke-width="1.75"/><path d="M360.9,410.1H362" stroke-width="0.9"/><circle cx="361.0" cy="422.5" r="0.6" stroke-width="1.1" fill="#000"/></g>
<text transform="translate(370.41,425.60) scale(1.140,1)" font-size="16.20">c</text>
<text transform="translate(379.52,424.60) scale(0.955,1)" font-size="14.80">h</text>
</g>
</svg>
</body></html>
